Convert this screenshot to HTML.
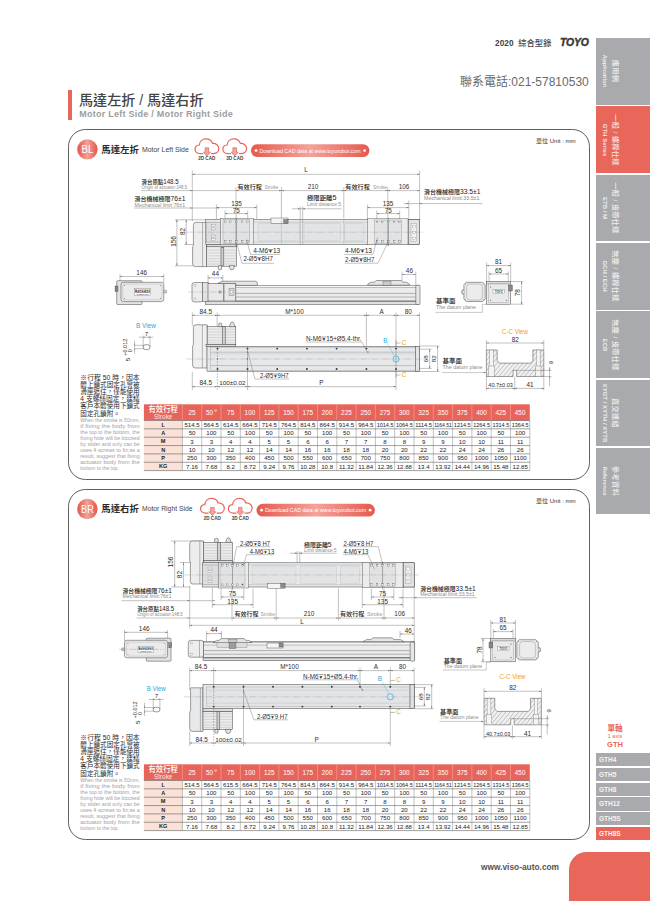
<!DOCTYPE html>
<html lang="zh-Hant"><head><meta charset="utf-8"><title>馬達左折 / 馬達右折 - GTH8S</title>
<style>
html,body{margin:0;padding:0}
body{width:650px;height:901px;position:relative;overflow:hidden;background:#fff;font-family:"Liberation Sans","Noto Sans CJK TC",sans-serif;color:#333}
.a{position:absolute;white-space:nowrap}
.tab{position:absolute;left:595.6px;width:54.4px;height:66.7px;background:#a8aaad}
.tab.on{background:#e9665b}
.tab .t{position:absolute;left:50%;top:50%;width:66px;margin-left:-33px;transform:translate(-12.6px,-50%) rotate(90deg);transform-origin:50% 50%;text-align:center;color:rgba(255,255,255,.82);line-height:1}
.tab .t b{display:block;font-size:7.2px;font-weight:500;letter-spacing:.25px}
.tab .t i{display:block;font-style:normal;font-weight:700;font-size:6.05px;margin-top:3.9px}
.panel{position:absolute;left:68.4px;width:521.4px;border:.9px solid #606060;border-radius:17.5px;box-sizing:border-box}
.li{position:absolute;left:595.6px;width:54.4px;height:13.1px;background:#a8aaad;color:#f4f4f4;font-weight:700;font-size:6.5px;line-height:13.3px;text-indent:3.4px}
.li.on{background:#e9665b}
.note{position:absolute;left:80.3px;width:59.6px;text-align:justify;white-space:normal}
svg text{font-family:"Liberation Sans","Noto Sans CJK TC",sans-serif}
</style></head><body>
<div class="a" style="left:495px;top:38.7px;font-size:8.25px;font-weight:700;line-height:10px;color:#444;letter-spacing:.05px">2020&nbsp; <span style="font-weight:500">綜合型錄</span></div>
<div class="a" style="left:560px;top:37px;font-size:10.4px;font-weight:700;font-style:italic;line-height:12px;color:#3a3a3a;-webkit-text-stroke:.45px #3a3a3a;letter-spacing:-.1px;transform:scaleX(1.0);transform-origin:0 0">TOYO</div>
<div class="a" style="left:460px;top:74px;font-size:12px;line-height:16px;color:#6a6a6a">聯系電話:021-57810530</div>
<div class="a" style="left:68.4px;top:90.1px;width:3.7px;height:30.3px;background:#e9665b"></div>
<div class="a" style="left:79px;top:90.6px;font-size:14.1px;font-weight:500;line-height:19px;color:#444">馬達左折 / 馬達右折</div>
<div class="a" style="left:79.2px;top:108.1px;font-size:9px;letter-spacing:.26px;font-weight:700;line-height:12px;color:#9c9da1">Motor Left Side / Motor Right Side</div>
<div class="tab" style="top:38px"><div class="t"><b>應用例</b><i>Application</i></div></div>
<div class="tab on" style="top:106.3px"><div class="t"><b>一般 / 螺桿仕樣</b><i>GTH Series</i></div></div>
<div class="tab" style="top:174.6px"><div class="t"><b>一般 / 皮帶仕樣</b><i>ETB / M</i></div></div>
<div class="tab" style="top:242.9px"><div class="t"><b>無塵 / 螺桿仕樣</b><i>GCH / ECH</i></div></div>
<div class="tab" style="top:311.2px"><div class="t"><b>無塵 / 皮帶仕樣</b><i>ECB</i></div></div>
<div class="tab" style="top:379.5px"><div class="t"><b>直交連結</b><i>XYGT / XYTH / XYTB</i></div></div>
<div class="tab" style="top:447.8px"><div class="t"><b>參考資料</b><i>Reference</i></div></div>
<div class="a" style="left:596px;width:38px;top:723.5px;text-align:center;color:#e9665b;font-size:7.6px;font-weight:700;line-height:9px">單軸</div>
<div class="a" style="left:596px;width:38px;top:732.6px;text-align:center;color:#e9665b;font-size:5.6px;line-height:7px">1 axis</div>
<div class="a" style="left:596px;width:38px;top:739.8px;text-align:center;color:#e9665b;font-size:7.6px;font-weight:700;line-height:9px">GTH</div>
<div class="li" style="top:753.1px">GTH4</div>
<div class="li" style="top:767.88px">GTH5</div>
<div class="li" style="top:782.66px">GTH8</div>
<div class="li" style="top:797.44px">GTH12</div>
<div class="li" style="top:812.22px">GTH5S</div>
<div class="li on" style="top:827px">GTH8S</div>
<div class="a" style="left:481px;top:861.5px;font-size:8.35px;font-weight:700;line-height:11px;color:#555">www.viso-auto.com</div>
<div class="a" style="left:568.8px;top:852.3px;width:90px;height:60px;background:#e9665b;border-radius:17.5px 0 0 0"></div>
<div class="panel" style="top:129px;height:351.1px"></div>
<div class="panel" style="top:488.6px;height:351px"></div>
<svg class="a" style="left:0;top:0" width="650" height="901" viewBox="0 0 650 901">
<defs><linearGradient id="gb" x1="0" y1="0" x2="1" y2="0"><stop offset="0" stop-color="#e4554a"/><stop offset="0.5" stop-color="#f2a199"/><stop offset="1" stop-color="#e4554a"/></linearGradient><linearGradient id="gp" x1="0" y1="0" x2="1" y2="0"><stop offset="0" stop-color="#e6594d"/><stop offset="0.5" stop-color="#f3a39b"/><stop offset="1" stop-color="#e6594d"/></linearGradient><pattern id="hat" width="3.3" height="3.3" patternUnits="userSpaceOnUse" patternTransform="rotate(-50)"><rect width="3.3" height="3.3" fill="#f0f0f1"/><line x1="0" y1="0" x2="3.3" y2="0" stroke="#4a4a4a" stroke-width="0.45"/></pattern></defs>
<circle cx="87.4" cy="149.4" r="10.2" fill="url(#gb)"/><text x="87.4" y="153.3" font-size="11.4" text-anchor="middle" fill="#fff" textLength="11.7" lengthAdjust="spacingAndGlyphs">BL</text><text x="101.3" y="152.6" font-size="9.3" text-anchor="start" fill="#2a2a2a" font-weight="700" textLength="37.6" lengthAdjust="spacingAndGlyphs">馬達左折</text><text x="142" y="151.7" font-size="6.6" text-anchor="start" fill="#444" textLength="46.8" lengthAdjust="spacingAndGlyphs">Motor Left Side</text><g transform="translate(194.4 138.2)" fill="none" stroke="#e8655a" stroke-width="1.25" stroke-linecap="round" stroke-linejoin="round"><path d="M8.2 15.4 H5.6 C2.6 15.4 0.7 13.4 0.7 11 C0.7 8.7 2.5 6.9 4.9 6.8 C5.2 3.2 8 0.7 11.6 0.7 C14.6 0.7 17.2 2.5 18.1 5.2 C21.6 4.9 24.4 7.3 24.4 10.4 C24.4 13.2 22.2 15.4 19.4 15.4 H17.2"/></g><path transform="translate(194.4 138.2)" d="M10.7 9.6 H14.3 V14 H16 L12.5 17.7 L9 14 H10.7 Z" fill="#f3a59c" stroke="#e8655a" stroke-width="0.7" stroke-linejoin="round"/><g transform="translate(222.2 138.2)" fill="none" stroke="#e8655a" stroke-width="1.25" stroke-linecap="round" stroke-linejoin="round"><path d="M8.2 15.4 H5.6 C2.6 15.4 0.7 13.4 0.7 11 C0.7 8.7 2.5 6.9 4.9 6.8 C5.2 3.2 8 0.7 11.6 0.7 C14.6 0.7 17.2 2.5 18.1 5.2 C21.6 4.9 24.4 7.3 24.4 10.4 C24.4 13.2 22.2 15.4 19.4 15.4 H17.2"/></g><path transform="translate(222.2 138.2)" d="M10.7 9.6 H14.3 V14 H16 L12.5 17.7 L9 14 H10.7 Z" fill="#f3a59c" stroke="#e8655a" stroke-width="0.7" stroke-linejoin="round"/><text x="206.8" y="160.4" font-size="4.7" text-anchor="middle" fill="#444" font-weight="700" textLength="17.3" lengthAdjust="spacingAndGlyphs">2D CAD</text><text x="234.8" y="160.4" font-size="4.7" text-anchor="middle" fill="#444" font-weight="700" textLength="17.3" lengthAdjust="spacingAndGlyphs">3D CAD</text><rect x="251" y="144.2" width="118.4" height="12.8" rx="6.4" fill="url(#gp)"/><circle cx="256.1" cy="150.6" r="1.4" fill="#fff"/><circle cx="364.6" cy="150.6" r="1.4" fill="#fff"/><text x="259.4" y="152.6" font-size="5.7" text-anchor="start" fill="#fff" textLength="101.2" lengthAdjust="spacingAndGlyphs">Download CAD data at www.toyorobot.com</text><text x="536" y="142.6" font-size="5.5" text-anchor="start" fill="#333" textLength="39.6" lengthAdjust="spacingAndGlyphs">單位 Unit : mm</text><text x="80.3" y="379.75" font-size="6.6" text-anchor="start" fill="#2a2a2a" font-weight="400" textLength="59.4" lengthAdjust="spacingAndGlyphs">※行程 50 時，因本</text><text x="80.3" y="387.05" font-size="6.6" text-anchor="start" fill="#2a2a2a" font-weight="400" textLength="59.4" lengthAdjust="spacingAndGlyphs">體上鎖式固定孔會被</text><text x="80.3" y="394.15" font-size="6.6" text-anchor="start" fill="#2a2a2a" font-weight="400" textLength="59.4" lengthAdjust="spacingAndGlyphs">滑座遮住，僅能使用</text><text x="80.3" y="401.25" font-size="6.6" text-anchor="start" fill="#2a2a2a" font-weight="400" textLength="59.4" lengthAdjust="spacingAndGlyphs">4 支螺絲固定，建議</text><text x="80.3" y="408.45" font-size="6.6" text-anchor="start" fill="#2a2a2a" font-weight="400" textLength="59.4" lengthAdjust="spacingAndGlyphs">客戶本體使用下鎖式</text><text x="80.3" y="415.55" font-size="6.6" text-anchor="start" fill="#2a2a2a" font-weight="400" textLength="39.6" lengthAdjust="spacingAndGlyphs">固定孔鎖附。</text><text x="80.3" y="421.95" font-size="5.2" text-anchor="start" fill="#a3a3a3" textLength="59.4" lengthAdjust="spacingAndGlyphs">When the stroke is 50mm,</text><text x="80.3" y="427.9" font-size="5.2" text-anchor="start" fill="#a3a3a3" textLength="59.4" lengthAdjust="spacingAndGlyphs">if fixing the body from</text><text x="80.3" y="433.85" font-size="5.2" text-anchor="start" fill="#a3a3a3" textLength="59.4" lengthAdjust="spacingAndGlyphs">the top to the bottom, the</text><text x="80.3" y="439.8" font-size="5.2" text-anchor="start" fill="#a3a3a3" textLength="59.4" lengthAdjust="spacingAndGlyphs">fixing hole will be blocked</text><text x="80.3" y="445.75" font-size="5.2" text-anchor="start" fill="#a3a3a3" textLength="59.4" lengthAdjust="spacingAndGlyphs">by slider and only can be</text><text x="80.3" y="451.7" font-size="5.2" text-anchor="start" fill="#a3a3a3" textLength="59.4" lengthAdjust="spacingAndGlyphs">uses 4 screws to fix;as a</text><text x="80.3" y="457.65" font-size="5.2" text-anchor="start" fill="#a3a3a3" textLength="59.4" lengthAdjust="spacingAndGlyphs">result, suggest that fixing</text><text x="80.3" y="463.6" font-size="5.2" text-anchor="start" fill="#a3a3a3" textLength="59.4" lengthAdjust="spacingAndGlyphs">actuator body from the</text><text x="80.3" y="469.55" font-size="5.2" text-anchor="start" fill="#a3a3a3" textLength="38.5" lengthAdjust="spacingAndGlyphs">bottom to the top.</text><rect x="143.9" y="404.3" width="385.9" height="16.2" fill="#e8645a"/><rect x="143.9" y="420.5" width="38.5" height="50.1" fill="#fbe2d8"/><line x1="182.4" y1="404.3" x2="182.4" y2="420.5" stroke="#f6b5ad" stroke-width="0.5"/><line x1="201.7" y1="404.3" x2="201.7" y2="420.5" stroke="#f6b5ad" stroke-width="0.5"/><line x1="221" y1="404.3" x2="221" y2="420.5" stroke="#f6b5ad" stroke-width="0.5"/><line x1="240.3" y1="404.3" x2="240.3" y2="420.5" stroke="#f6b5ad" stroke-width="0.5"/><line x1="259.6" y1="404.3" x2="259.6" y2="420.5" stroke="#f6b5ad" stroke-width="0.5"/><line x1="278.9" y1="404.3" x2="278.9" y2="420.5" stroke="#f6b5ad" stroke-width="0.5"/><line x1="298.2" y1="404.3" x2="298.2" y2="420.5" stroke="#f6b5ad" stroke-width="0.5"/><line x1="317.5" y1="404.3" x2="317.5" y2="420.5" stroke="#f6b5ad" stroke-width="0.5"/><line x1="336.8" y1="404.3" x2="336.8" y2="420.5" stroke="#f6b5ad" stroke-width="0.5"/><line x1="356.1" y1="404.3" x2="356.1" y2="420.5" stroke="#f6b5ad" stroke-width="0.5"/><line x1="375.4" y1="404.3" x2="375.4" y2="420.5" stroke="#f6b5ad" stroke-width="0.5"/><line x1="394.7" y1="404.3" x2="394.7" y2="420.5" stroke="#f6b5ad" stroke-width="0.5"/><line x1="414" y1="404.3" x2="414" y2="420.5" stroke="#f6b5ad" stroke-width="0.5"/><line x1="433.3" y1="404.3" x2="433.3" y2="420.5" stroke="#f6b5ad" stroke-width="0.5"/><line x1="452.6" y1="404.3" x2="452.6" y2="420.5" stroke="#f6b5ad" stroke-width="0.5"/><line x1="471.9" y1="404.3" x2="471.9" y2="420.5" stroke="#f6b5ad" stroke-width="0.5"/><line x1="491.2" y1="404.3" x2="491.2" y2="420.5" stroke="#f6b5ad" stroke-width="0.5"/><line x1="510.5" y1="404.3" x2="510.5" y2="420.5" stroke="#f6b5ad" stroke-width="0.5"/><text x="163.15" y="412.2" font-size="7.6" text-anchor="middle" fill="#fff" font-weight="500" textLength="29.5" lengthAdjust="spacingAndGlyphs">有效行程</text><text x="163.15" y="418.5" font-size="6.3" text-anchor="middle" fill="#fde4df" textLength="18.5" lengthAdjust="spacingAndGlyphs">Stroke</text><text x="192.05" y="414.9" font-size="6.4" text-anchor="middle" fill="#fff">25</text><text x="209.45" y="414.9" font-size="6.4" text-anchor="middle" fill="#fff">50</text><text x="215.55" y="411.8" font-size="3.8" text-anchor="middle" fill="#fff">※</text><text x="230.65" y="414.9" font-size="6.4" text-anchor="middle" fill="#fff">75</text><text x="249.95" y="414.9" font-size="6.4" text-anchor="middle" fill="#fff">100</text><text x="269.25" y="414.9" font-size="6.4" text-anchor="middle" fill="#fff">125</text><text x="288.55" y="414.9" font-size="6.4" text-anchor="middle" fill="#fff">150</text><text x="307.85" y="414.9" font-size="6.4" text-anchor="middle" fill="#fff">175</text><text x="327.15" y="414.9" font-size="6.4" text-anchor="middle" fill="#fff">200</text><text x="346.45" y="414.9" font-size="6.4" text-anchor="middle" fill="#fff">225</text><text x="365.75" y="414.9" font-size="6.4" text-anchor="middle" fill="#fff">250</text><text x="385.05" y="414.9" font-size="6.4" text-anchor="middle" fill="#fff">275</text><text x="404.35" y="414.9" font-size="6.4" text-anchor="middle" fill="#fff">300</text><text x="423.65" y="414.9" font-size="6.4" text-anchor="middle" fill="#fff">325</text><text x="442.95" y="414.9" font-size="6.4" text-anchor="middle" fill="#fff">350</text><text x="462.25" y="414.9" font-size="6.4" text-anchor="middle" fill="#fff">375</text><text x="481.55" y="414.9" font-size="6.4" text-anchor="middle" fill="#fff">400</text><text x="500.85" y="414.9" font-size="6.4" text-anchor="middle" fill="#fff">425</text><text x="520.15" y="414.9" font-size="6.4" text-anchor="middle" fill="#fff">450</text><text x="163.15" y="426.73" font-size="5.6" text-anchor="middle" fill="#222" font-weight="700">L</text><text x="192.05" y="426.88" font-size="6.1" text-anchor="middle" fill="#222">514.5</text><text x="211.35" y="426.88" font-size="6.1" text-anchor="middle" fill="#222">564.5</text><text x="230.65" y="426.88" font-size="6.1" text-anchor="middle" fill="#222">614.5</text><text x="249.95" y="426.88" font-size="6.1" text-anchor="middle" fill="#222">664.5</text><text x="269.25" y="426.88" font-size="6.1" text-anchor="middle" fill="#222">714.5</text><text x="288.55" y="426.88" font-size="6.1" text-anchor="middle" fill="#222">764.5</text><text x="307.85" y="426.88" font-size="6.1" text-anchor="middle" fill="#222">814.5</text><text x="327.15" y="426.88" font-size="6.1" text-anchor="middle" fill="#222">864.5</text><text x="346.45" y="426.88" font-size="6.1" text-anchor="middle" fill="#222">914.5</text><text x="365.75" y="426.88" font-size="6.1" text-anchor="middle" fill="#222">964.5</text><text x="385.05" y="426.88" font-size="6.1" text-anchor="middle" fill="#222" textLength="16.8" lengthAdjust="spacingAndGlyphs">1014.5</text><text x="404.35" y="426.88" font-size="6.1" text-anchor="middle" fill="#222" textLength="16.8" lengthAdjust="spacingAndGlyphs">1064.5</text><text x="423.65" y="426.88" font-size="6.1" text-anchor="middle" fill="#222" textLength="16.8" lengthAdjust="spacingAndGlyphs">1114.5</text><text x="442.95" y="426.88" font-size="6.1" text-anchor="middle" fill="#222" textLength="17.6" lengthAdjust="spacingAndGlyphs">1164.51</text><text x="462.25" y="426.88" font-size="6.1" text-anchor="middle" fill="#222" textLength="16.8" lengthAdjust="spacingAndGlyphs">1214.5</text><text x="481.55" y="426.88" font-size="6.1" text-anchor="middle" fill="#222" textLength="16.8" lengthAdjust="spacingAndGlyphs">1264.5</text><text x="500.85" y="426.88" font-size="6.1" text-anchor="middle" fill="#222" textLength="16.8" lengthAdjust="spacingAndGlyphs">1314.5</text><text x="520.15" y="426.88" font-size="6.1" text-anchor="middle" fill="#222" textLength="16.8" lengthAdjust="spacingAndGlyphs">1364.5</text><text x="163.15" y="435.08" font-size="5.6" text-anchor="middle" fill="#222" font-weight="700">A</text><text x="192.05" y="435.23" font-size="6.1" text-anchor="middle" fill="#222">50</text><text x="211.35" y="435.23" font-size="6.1" text-anchor="middle" fill="#222">100</text><text x="230.65" y="435.23" font-size="6.1" text-anchor="middle" fill="#222">50</text><text x="249.95" y="435.23" font-size="6.1" text-anchor="middle" fill="#222">100</text><text x="269.25" y="435.23" font-size="6.1" text-anchor="middle" fill="#222">50</text><text x="288.55" y="435.23" font-size="6.1" text-anchor="middle" fill="#222">100</text><text x="307.85" y="435.23" font-size="6.1" text-anchor="middle" fill="#222">50</text><text x="327.15" y="435.23" font-size="6.1" text-anchor="middle" fill="#222">100</text><text x="346.45" y="435.23" font-size="6.1" text-anchor="middle" fill="#222">50</text><text x="365.75" y="435.23" font-size="6.1" text-anchor="middle" fill="#222">100</text><text x="385.05" y="435.23" font-size="6.1" text-anchor="middle" fill="#222">50</text><text x="404.35" y="435.23" font-size="6.1" text-anchor="middle" fill="#222">100</text><text x="423.65" y="435.23" font-size="6.1" text-anchor="middle" fill="#222">50</text><text x="442.95" y="435.23" font-size="6.1" text-anchor="middle" fill="#222">100</text><text x="462.25" y="435.23" font-size="6.1" text-anchor="middle" fill="#222">50</text><text x="481.55" y="435.23" font-size="6.1" text-anchor="middle" fill="#222">100</text><text x="500.85" y="435.23" font-size="6.1" text-anchor="middle" fill="#222">50</text><text x="520.15" y="435.23" font-size="6.1" text-anchor="middle" fill="#222">100</text><text x="163.15" y="443.43" font-size="5.6" text-anchor="middle" fill="#222" font-weight="700">M</text><text x="192.05" y="443.57" font-size="6.1" text-anchor="middle" fill="#222">3</text><text x="211.35" y="443.57" font-size="6.1" text-anchor="middle" fill="#222">3</text><text x="230.65" y="443.57" font-size="6.1" text-anchor="middle" fill="#222">4</text><text x="249.95" y="443.57" font-size="6.1" text-anchor="middle" fill="#222">4</text><text x="269.25" y="443.57" font-size="6.1" text-anchor="middle" fill="#222">5</text><text x="288.55" y="443.57" font-size="6.1" text-anchor="middle" fill="#222">5</text><text x="307.85" y="443.57" font-size="6.1" text-anchor="middle" fill="#222">6</text><text x="327.15" y="443.57" font-size="6.1" text-anchor="middle" fill="#222">6</text><text x="346.45" y="443.57" font-size="6.1" text-anchor="middle" fill="#222">7</text><text x="365.75" y="443.57" font-size="6.1" text-anchor="middle" fill="#222">7</text><text x="385.05" y="443.57" font-size="6.1" text-anchor="middle" fill="#222">8</text><text x="404.35" y="443.57" font-size="6.1" text-anchor="middle" fill="#222">8</text><text x="423.65" y="443.57" font-size="6.1" text-anchor="middle" fill="#222">9</text><text x="442.95" y="443.57" font-size="6.1" text-anchor="middle" fill="#222">9</text><text x="462.25" y="443.57" font-size="6.1" text-anchor="middle" fill="#222">10</text><text x="481.55" y="443.57" font-size="6.1" text-anchor="middle" fill="#222">10</text><text x="500.85" y="443.57" font-size="6.1" text-anchor="middle" fill="#222">11</text><text x="520.15" y="443.57" font-size="6.1" text-anchor="middle" fill="#222">11</text><text x="163.15" y="451.78" font-size="5.6" text-anchor="middle" fill="#222" font-weight="700">N</text><text x="192.05" y="451.93" font-size="6.1" text-anchor="middle" fill="#222">10</text><text x="211.35" y="451.93" font-size="6.1" text-anchor="middle" fill="#222">10</text><text x="230.65" y="451.93" font-size="6.1" text-anchor="middle" fill="#222">12</text><text x="249.95" y="451.93" font-size="6.1" text-anchor="middle" fill="#222">12</text><text x="269.25" y="451.93" font-size="6.1" text-anchor="middle" fill="#222">14</text><text x="288.55" y="451.93" font-size="6.1" text-anchor="middle" fill="#222">14</text><text x="307.85" y="451.93" font-size="6.1" text-anchor="middle" fill="#222">16</text><text x="327.15" y="451.93" font-size="6.1" text-anchor="middle" fill="#222">16</text><text x="346.45" y="451.93" font-size="6.1" text-anchor="middle" fill="#222">18</text><text x="365.75" y="451.93" font-size="6.1" text-anchor="middle" fill="#222">18</text><text x="385.05" y="451.93" font-size="6.1" text-anchor="middle" fill="#222">20</text><text x="404.35" y="451.93" font-size="6.1" text-anchor="middle" fill="#222">20</text><text x="423.65" y="451.93" font-size="6.1" text-anchor="middle" fill="#222">22</text><text x="442.95" y="451.93" font-size="6.1" text-anchor="middle" fill="#222">22</text><text x="462.25" y="451.93" font-size="6.1" text-anchor="middle" fill="#222">24</text><text x="481.55" y="451.93" font-size="6.1" text-anchor="middle" fill="#222">24</text><text x="500.85" y="451.93" font-size="6.1" text-anchor="middle" fill="#222">26</text><text x="520.15" y="451.93" font-size="6.1" text-anchor="middle" fill="#222">26</text><text x="163.15" y="460.13" font-size="5.6" text-anchor="middle" fill="#222" font-weight="700">P</text><text x="192.05" y="460.28" font-size="6.1" text-anchor="middle" fill="#222">250</text><text x="211.35" y="460.28" font-size="6.1" text-anchor="middle" fill="#222">300</text><text x="230.65" y="460.28" font-size="6.1" text-anchor="middle" fill="#222">350</text><text x="249.95" y="460.28" font-size="6.1" text-anchor="middle" fill="#222">400</text><text x="269.25" y="460.28" font-size="6.1" text-anchor="middle" fill="#222">450</text><text x="288.55" y="460.28" font-size="6.1" text-anchor="middle" fill="#222">500</text><text x="307.85" y="460.28" font-size="6.1" text-anchor="middle" fill="#222">550</text><text x="327.15" y="460.28" font-size="6.1" text-anchor="middle" fill="#222">600</text><text x="346.45" y="460.28" font-size="6.1" text-anchor="middle" fill="#222">650</text><text x="365.75" y="460.28" font-size="6.1" text-anchor="middle" fill="#222">700</text><text x="385.05" y="460.28" font-size="6.1" text-anchor="middle" fill="#222">750</text><text x="404.35" y="460.28" font-size="6.1" text-anchor="middle" fill="#222">800</text><text x="423.65" y="460.28" font-size="6.1" text-anchor="middle" fill="#222">850</text><text x="442.95" y="460.28" font-size="6.1" text-anchor="middle" fill="#222">900</text><text x="462.25" y="460.28" font-size="6.1" text-anchor="middle" fill="#222">950</text><text x="481.55" y="460.28" font-size="6.1" text-anchor="middle" fill="#222">1000</text><text x="500.85" y="460.28" font-size="6.1" text-anchor="middle" fill="#222">1050</text><text x="520.15" y="460.28" font-size="6.1" text-anchor="middle" fill="#222">1100</text><text x="163.15" y="468.48" font-size="5.6" text-anchor="middle" fill="#222" font-weight="700">KG</text><text x="192.05" y="468.62" font-size="6.1" text-anchor="middle" fill="#222">7.16</text><text x="211.35" y="468.62" font-size="6.1" text-anchor="middle" fill="#222">7.68</text><text x="230.65" y="468.62" font-size="6.1" text-anchor="middle" fill="#222">8.2</text><text x="249.95" y="468.62" font-size="6.1" text-anchor="middle" fill="#222">8.72</text><text x="269.25" y="468.62" font-size="6.1" text-anchor="middle" fill="#222">9.24</text><text x="288.55" y="468.62" font-size="6.1" text-anchor="middle" fill="#222">9.76</text><text x="307.85" y="468.62" font-size="6.1" text-anchor="middle" fill="#222">10.28</text><text x="327.15" y="468.62" font-size="6.1" text-anchor="middle" fill="#222">10.8</text><text x="346.45" y="468.62" font-size="6.1" text-anchor="middle" fill="#222">11.32</text><text x="365.75" y="468.62" font-size="6.1" text-anchor="middle" fill="#222">11.84</text><text x="385.05" y="468.62" font-size="6.1" text-anchor="middle" fill="#222">12.36</text><text x="404.35" y="468.62" font-size="6.1" text-anchor="middle" fill="#222">12.88</text><text x="423.65" y="468.62" font-size="6.1" text-anchor="middle" fill="#222">13.4</text><text x="442.95" y="468.62" font-size="6.1" text-anchor="middle" fill="#222">13.92</text><text x="462.25" y="468.62" font-size="6.1" text-anchor="middle" fill="#222">14.44</text><text x="481.55" y="468.62" font-size="6.1" text-anchor="middle" fill="#222">14.96</text><text x="500.85" y="468.62" font-size="6.1" text-anchor="middle" fill="#222">15.48</text><text x="520.15" y="468.62" font-size="6.1" text-anchor="middle" fill="#222">12.85</text><line x1="143.9" y1="420.5" x2="529.8" y2="420.5" stroke="#444" stroke-width="0.5"/><line x1="143.9" y1="428.85" x2="529.8" y2="428.85" stroke="#444" stroke-width="0.5"/><line x1="143.9" y1="437.2" x2="529.8" y2="437.2" stroke="#444" stroke-width="0.5"/><line x1="143.9" y1="445.55" x2="529.8" y2="445.55" stroke="#444" stroke-width="0.5"/><line x1="143.9" y1="453.9" x2="529.8" y2="453.9" stroke="#444" stroke-width="0.5"/><line x1="143.9" y1="462.25" x2="529.8" y2="462.25" stroke="#444" stroke-width="0.5"/><line x1="143.9" y1="470.6" x2="529.8" y2="470.6" stroke="#444" stroke-width="0.5"/><line x1="182.4" y1="420.5" x2="182.4" y2="470.6" stroke="#777" stroke-width="0.45"/><line x1="201.7" y1="420.5" x2="201.7" y2="470.6" stroke="#777" stroke-width="0.45"/><line x1="221" y1="420.5" x2="221" y2="470.6" stroke="#777" stroke-width="0.45"/><line x1="240.3" y1="420.5" x2="240.3" y2="470.6" stroke="#777" stroke-width="0.45"/><line x1="259.6" y1="420.5" x2="259.6" y2="470.6" stroke="#777" stroke-width="0.45"/><line x1="278.9" y1="420.5" x2="278.9" y2="470.6" stroke="#777" stroke-width="0.45"/><line x1="298.2" y1="420.5" x2="298.2" y2="470.6" stroke="#777" stroke-width="0.45"/><line x1="317.5" y1="420.5" x2="317.5" y2="470.6" stroke="#777" stroke-width="0.45"/><line x1="336.8" y1="420.5" x2="336.8" y2="470.6" stroke="#777" stroke-width="0.45"/><line x1="356.1" y1="420.5" x2="356.1" y2="470.6" stroke="#777" stroke-width="0.45"/><line x1="375.4" y1="420.5" x2="375.4" y2="470.6" stroke="#777" stroke-width="0.45"/><line x1="394.7" y1="420.5" x2="394.7" y2="470.6" stroke="#777" stroke-width="0.45"/><line x1="414" y1="420.5" x2="414" y2="470.6" stroke="#777" stroke-width="0.45"/><line x1="433.3" y1="420.5" x2="433.3" y2="470.6" stroke="#777" stroke-width="0.45"/><line x1="452.6" y1="420.5" x2="452.6" y2="470.6" stroke="#777" stroke-width="0.45"/><line x1="471.9" y1="420.5" x2="471.9" y2="470.6" stroke="#777" stroke-width="0.45"/><line x1="491.2" y1="420.5" x2="491.2" y2="470.6" stroke="#777" stroke-width="0.45"/><line x1="510.5" y1="420.5" x2="510.5" y2="470.6" stroke="#777" stroke-width="0.45"/><line x1="529.8" y1="420.5" x2="529.8" y2="470.6" stroke="#777" stroke-width="0.45"/>
<circle cx="87.4" cy="509" r="10.2" fill="url(#gb)"/><text x="87.4" y="512.9" font-size="11.4" text-anchor="middle" fill="#fff" textLength="12.6" lengthAdjust="spacingAndGlyphs">BR</text><text x="101.3" y="512.2" font-size="9.3" text-anchor="start" fill="#2a2a2a" font-weight="700" textLength="37.6" lengthAdjust="spacingAndGlyphs">馬達右折</text><text x="142" y="511.3" font-size="6.6" text-anchor="start" fill="#444" textLength="50.5" lengthAdjust="spacingAndGlyphs">Motor Right Side</text><g transform="translate(199.9 497.8)" fill="none" stroke="#e8655a" stroke-width="1.25" stroke-linecap="round" stroke-linejoin="round"><path d="M8.2 15.4 H5.6 C2.6 15.4 0.7 13.4 0.7 11 C0.7 8.7 2.5 6.9 4.9 6.8 C5.2 3.2 8 0.7 11.6 0.7 C14.6 0.7 17.2 2.5 18.1 5.2 C21.6 4.9 24.4 7.3 24.4 10.4 C24.4 13.2 22.2 15.4 19.4 15.4 H17.2"/></g><path transform="translate(199.9 497.8)" d="M10.7 9.6 H14.3 V14 H16 L12.5 17.7 L9 14 H10.7 Z" fill="#f3a59c" stroke="#e8655a" stroke-width="0.7" stroke-linejoin="round"/><g transform="translate(227.7 497.8)" fill="none" stroke="#e8655a" stroke-width="1.25" stroke-linecap="round" stroke-linejoin="round"><path d="M8.2 15.4 H5.6 C2.6 15.4 0.7 13.4 0.7 11 C0.7 8.7 2.5 6.9 4.9 6.8 C5.2 3.2 8 0.7 11.6 0.7 C14.6 0.7 17.2 2.5 18.1 5.2 C21.6 4.9 24.4 7.3 24.4 10.4 C24.4 13.2 22.2 15.4 19.4 15.4 H17.2"/></g><path transform="translate(227.7 497.8)" d="M10.7 9.6 H14.3 V14 H16 L12.5 17.7 L9 14 H10.7 Z" fill="#f3a59c" stroke="#e8655a" stroke-width="0.7" stroke-linejoin="round"/><text x="212.3" y="520" font-size="4.7" text-anchor="middle" fill="#444" font-weight="700" textLength="17.3" lengthAdjust="spacingAndGlyphs">2D CAD</text><text x="240.3" y="520" font-size="4.7" text-anchor="middle" fill="#444" font-weight="700" textLength="17.3" lengthAdjust="spacingAndGlyphs">3D CAD</text><rect x="256.5" y="503.8" width="118.4" height="12.8" rx="6.4" fill="url(#gp)"/><circle cx="261.6" cy="510.2" r="1.4" fill="#fff"/><circle cx="370.1" cy="510.2" r="1.4" fill="#fff"/><text x="264.9" y="512.2" font-size="5.7" text-anchor="start" fill="#fff" textLength="101.2" lengthAdjust="spacingAndGlyphs">Download CAD data at www.toyorobot.com</text><text x="536" y="502.6" font-size="5.5" text-anchor="start" fill="#333" textLength="39.6" lengthAdjust="spacingAndGlyphs">單位 Unit : mm</text><text x="80.3" y="739.75" font-size="6.6" text-anchor="start" fill="#2a2a2a" font-weight="400" textLength="59.4" lengthAdjust="spacingAndGlyphs">※行程 50 時，因本</text><text x="80.3" y="747.05" font-size="6.6" text-anchor="start" fill="#2a2a2a" font-weight="400" textLength="59.4" lengthAdjust="spacingAndGlyphs">體上鎖式固定孔會被</text><text x="80.3" y="754.15" font-size="6.6" text-anchor="start" fill="#2a2a2a" font-weight="400" textLength="59.4" lengthAdjust="spacingAndGlyphs">滑座遮住，僅能使用</text><text x="80.3" y="761.25" font-size="6.6" text-anchor="start" fill="#2a2a2a" font-weight="400" textLength="59.4" lengthAdjust="spacingAndGlyphs">4 支螺絲固定，建議</text><text x="80.3" y="768.45" font-size="6.6" text-anchor="start" fill="#2a2a2a" font-weight="400" textLength="59.4" lengthAdjust="spacingAndGlyphs">客戶本體使用下鎖式</text><text x="80.3" y="775.55" font-size="6.6" text-anchor="start" fill="#2a2a2a" font-weight="400" textLength="39.6" lengthAdjust="spacingAndGlyphs">固定孔鎖附。</text><text x="80.3" y="781.95" font-size="5.2" text-anchor="start" fill="#a3a3a3" textLength="59.4" lengthAdjust="spacingAndGlyphs">When the stroke is 50mm,</text><text x="80.3" y="787.9" font-size="5.2" text-anchor="start" fill="#a3a3a3" textLength="59.4" lengthAdjust="spacingAndGlyphs">if fixing the body from</text><text x="80.3" y="793.85" font-size="5.2" text-anchor="start" fill="#a3a3a3" textLength="59.4" lengthAdjust="spacingAndGlyphs">the top to the bottom, the</text><text x="80.3" y="799.8" font-size="5.2" text-anchor="start" fill="#a3a3a3" textLength="59.4" lengthAdjust="spacingAndGlyphs">fixing hole will be blocked</text><text x="80.3" y="805.75" font-size="5.2" text-anchor="start" fill="#a3a3a3" textLength="59.4" lengthAdjust="spacingAndGlyphs">by slider and only can be</text><text x="80.3" y="811.7" font-size="5.2" text-anchor="start" fill="#a3a3a3" textLength="59.4" lengthAdjust="spacingAndGlyphs">uses 4 screws to fix;as a</text><text x="80.3" y="817.65" font-size="5.2" text-anchor="start" fill="#a3a3a3" textLength="59.4" lengthAdjust="spacingAndGlyphs">result, suggest that fixing</text><text x="80.3" y="823.6" font-size="5.2" text-anchor="start" fill="#a3a3a3" textLength="59.4" lengthAdjust="spacingAndGlyphs">actuator body from the</text><text x="80.3" y="829.55" font-size="5.2" text-anchor="start" fill="#a3a3a3" textLength="38.5" lengthAdjust="spacingAndGlyphs">bottom to the top.</text><rect x="143.9" y="764.3" width="385.9" height="16.2" fill="#e8645a"/><rect x="143.9" y="780.5" width="38.5" height="50.1" fill="#fbe2d8"/><line x1="182.4" y1="764.3" x2="182.4" y2="780.5" stroke="#f6b5ad" stroke-width="0.5"/><line x1="201.7" y1="764.3" x2="201.7" y2="780.5" stroke="#f6b5ad" stroke-width="0.5"/><line x1="221" y1="764.3" x2="221" y2="780.5" stroke="#f6b5ad" stroke-width="0.5"/><line x1="240.3" y1="764.3" x2="240.3" y2="780.5" stroke="#f6b5ad" stroke-width="0.5"/><line x1="259.6" y1="764.3" x2="259.6" y2="780.5" stroke="#f6b5ad" stroke-width="0.5"/><line x1="278.9" y1="764.3" x2="278.9" y2="780.5" stroke="#f6b5ad" stroke-width="0.5"/><line x1="298.2" y1="764.3" x2="298.2" y2="780.5" stroke="#f6b5ad" stroke-width="0.5"/><line x1="317.5" y1="764.3" x2="317.5" y2="780.5" stroke="#f6b5ad" stroke-width="0.5"/><line x1="336.8" y1="764.3" x2="336.8" y2="780.5" stroke="#f6b5ad" stroke-width="0.5"/><line x1="356.1" y1="764.3" x2="356.1" y2="780.5" stroke="#f6b5ad" stroke-width="0.5"/><line x1="375.4" y1="764.3" x2="375.4" y2="780.5" stroke="#f6b5ad" stroke-width="0.5"/><line x1="394.7" y1="764.3" x2="394.7" y2="780.5" stroke="#f6b5ad" stroke-width="0.5"/><line x1="414" y1="764.3" x2="414" y2="780.5" stroke="#f6b5ad" stroke-width="0.5"/><line x1="433.3" y1="764.3" x2="433.3" y2="780.5" stroke="#f6b5ad" stroke-width="0.5"/><line x1="452.6" y1="764.3" x2="452.6" y2="780.5" stroke="#f6b5ad" stroke-width="0.5"/><line x1="471.9" y1="764.3" x2="471.9" y2="780.5" stroke="#f6b5ad" stroke-width="0.5"/><line x1="491.2" y1="764.3" x2="491.2" y2="780.5" stroke="#f6b5ad" stroke-width="0.5"/><line x1="510.5" y1="764.3" x2="510.5" y2="780.5" stroke="#f6b5ad" stroke-width="0.5"/><text x="163.15" y="772.2" font-size="7.6" text-anchor="middle" fill="#fff" font-weight="500" textLength="29.5" lengthAdjust="spacingAndGlyphs">有效行程</text><text x="163.15" y="778.5" font-size="6.3" text-anchor="middle" fill="#fde4df" textLength="18.5" lengthAdjust="spacingAndGlyphs">Stroke</text><text x="192.05" y="774.9" font-size="6.4" text-anchor="middle" fill="#fff">25</text><text x="209.45" y="774.9" font-size="6.4" text-anchor="middle" fill="#fff">50</text><text x="215.55" y="771.8" font-size="3.8" text-anchor="middle" fill="#fff">※</text><text x="230.65" y="774.9" font-size="6.4" text-anchor="middle" fill="#fff">75</text><text x="249.95" y="774.9" font-size="6.4" text-anchor="middle" fill="#fff">100</text><text x="269.25" y="774.9" font-size="6.4" text-anchor="middle" fill="#fff">125</text><text x="288.55" y="774.9" font-size="6.4" text-anchor="middle" fill="#fff">150</text><text x="307.85" y="774.9" font-size="6.4" text-anchor="middle" fill="#fff">175</text><text x="327.15" y="774.9" font-size="6.4" text-anchor="middle" fill="#fff">200</text><text x="346.45" y="774.9" font-size="6.4" text-anchor="middle" fill="#fff">225</text><text x="365.75" y="774.9" font-size="6.4" text-anchor="middle" fill="#fff">250</text><text x="385.05" y="774.9" font-size="6.4" text-anchor="middle" fill="#fff">275</text><text x="404.35" y="774.9" font-size="6.4" text-anchor="middle" fill="#fff">300</text><text x="423.65" y="774.9" font-size="6.4" text-anchor="middle" fill="#fff">325</text><text x="442.95" y="774.9" font-size="6.4" text-anchor="middle" fill="#fff">350</text><text x="462.25" y="774.9" font-size="6.4" text-anchor="middle" fill="#fff">375</text><text x="481.55" y="774.9" font-size="6.4" text-anchor="middle" fill="#fff">400</text><text x="500.85" y="774.9" font-size="6.4" text-anchor="middle" fill="#fff">425</text><text x="520.15" y="774.9" font-size="6.4" text-anchor="middle" fill="#fff">450</text><text x="163.15" y="786.72" font-size="5.6" text-anchor="middle" fill="#222" font-weight="700">L</text><text x="192.05" y="786.88" font-size="6.1" text-anchor="middle" fill="#222">514.5</text><text x="211.35" y="786.88" font-size="6.1" text-anchor="middle" fill="#222">564.5</text><text x="230.65" y="786.88" font-size="6.1" text-anchor="middle" fill="#222">615.5</text><text x="249.95" y="786.88" font-size="6.1" text-anchor="middle" fill="#222">664.5</text><text x="269.25" y="786.88" font-size="6.1" text-anchor="middle" fill="#222">714.5</text><text x="288.55" y="786.88" font-size="6.1" text-anchor="middle" fill="#222">764.5</text><text x="307.85" y="786.88" font-size="6.1" text-anchor="middle" fill="#222">814.5</text><text x="327.15" y="786.88" font-size="6.1" text-anchor="middle" fill="#222">864.5</text><text x="346.45" y="786.88" font-size="6.1" text-anchor="middle" fill="#222">914.5</text><text x="365.75" y="786.88" font-size="6.1" text-anchor="middle" fill="#222">964.5</text><text x="385.05" y="786.88" font-size="6.1" text-anchor="middle" fill="#222" textLength="16.8" lengthAdjust="spacingAndGlyphs">1014.5</text><text x="404.35" y="786.88" font-size="6.1" text-anchor="middle" fill="#222" textLength="16.8" lengthAdjust="spacingAndGlyphs">1064.5</text><text x="423.65" y="786.88" font-size="6.1" text-anchor="middle" fill="#222" textLength="16.8" lengthAdjust="spacingAndGlyphs">1114.5</text><text x="442.95" y="786.88" font-size="6.1" text-anchor="middle" fill="#222" textLength="17.6" lengthAdjust="spacingAndGlyphs">1164.51</text><text x="462.25" y="786.88" font-size="6.1" text-anchor="middle" fill="#222" textLength="16.8" lengthAdjust="spacingAndGlyphs">1214.5</text><text x="481.55" y="786.88" font-size="6.1" text-anchor="middle" fill="#222" textLength="16.8" lengthAdjust="spacingAndGlyphs">1264.5</text><text x="500.85" y="786.88" font-size="6.1" text-anchor="middle" fill="#222" textLength="16.8" lengthAdjust="spacingAndGlyphs">1314.5</text><text x="520.15" y="786.88" font-size="6.1" text-anchor="middle" fill="#222" textLength="16.8" lengthAdjust="spacingAndGlyphs">1364.5</text><text x="163.15" y="795.07" font-size="5.6" text-anchor="middle" fill="#222" font-weight="700">A</text><text x="192.05" y="795.23" font-size="6.1" text-anchor="middle" fill="#222">50</text><text x="211.35" y="795.23" font-size="6.1" text-anchor="middle" fill="#222">100</text><text x="230.65" y="795.23" font-size="6.1" text-anchor="middle" fill="#222">50</text><text x="249.95" y="795.23" font-size="6.1" text-anchor="middle" fill="#222">100</text><text x="269.25" y="795.23" font-size="6.1" text-anchor="middle" fill="#222">50</text><text x="288.55" y="795.23" font-size="6.1" text-anchor="middle" fill="#222">100</text><text x="307.85" y="795.23" font-size="6.1" text-anchor="middle" fill="#222">50</text><text x="327.15" y="795.23" font-size="6.1" text-anchor="middle" fill="#222">100</text><text x="346.45" y="795.23" font-size="6.1" text-anchor="middle" fill="#222">50</text><text x="365.75" y="795.23" font-size="6.1" text-anchor="middle" fill="#222">100</text><text x="385.05" y="795.23" font-size="6.1" text-anchor="middle" fill="#222">50</text><text x="404.35" y="795.23" font-size="6.1" text-anchor="middle" fill="#222">100</text><text x="423.65" y="795.23" font-size="6.1" text-anchor="middle" fill="#222">50</text><text x="442.95" y="795.23" font-size="6.1" text-anchor="middle" fill="#222">100</text><text x="462.25" y="795.23" font-size="6.1" text-anchor="middle" fill="#222">50</text><text x="481.55" y="795.23" font-size="6.1" text-anchor="middle" fill="#222">100</text><text x="500.85" y="795.23" font-size="6.1" text-anchor="middle" fill="#222">50</text><text x="520.15" y="795.23" font-size="6.1" text-anchor="middle" fill="#222">100</text><text x="163.15" y="803.42" font-size="5.6" text-anchor="middle" fill="#222" font-weight="700">M</text><text x="192.05" y="803.58" font-size="6.1" text-anchor="middle" fill="#222">3</text><text x="211.35" y="803.58" font-size="6.1" text-anchor="middle" fill="#222">3</text><text x="230.65" y="803.58" font-size="6.1" text-anchor="middle" fill="#222">4</text><text x="249.95" y="803.58" font-size="6.1" text-anchor="middle" fill="#222">4</text><text x="269.25" y="803.58" font-size="6.1" text-anchor="middle" fill="#222">5</text><text x="288.55" y="803.58" font-size="6.1" text-anchor="middle" fill="#222">5</text><text x="307.85" y="803.58" font-size="6.1" text-anchor="middle" fill="#222">6</text><text x="327.15" y="803.58" font-size="6.1" text-anchor="middle" fill="#222">6</text><text x="346.45" y="803.58" font-size="6.1" text-anchor="middle" fill="#222">7</text><text x="365.75" y="803.58" font-size="6.1" text-anchor="middle" fill="#222">7</text><text x="385.05" y="803.58" font-size="6.1" text-anchor="middle" fill="#222">8</text><text x="404.35" y="803.58" font-size="6.1" text-anchor="middle" fill="#222">8</text><text x="423.65" y="803.58" font-size="6.1" text-anchor="middle" fill="#222">9</text><text x="442.95" y="803.58" font-size="6.1" text-anchor="middle" fill="#222">9</text><text x="462.25" y="803.58" font-size="6.1" text-anchor="middle" fill="#222">10</text><text x="481.55" y="803.58" font-size="6.1" text-anchor="middle" fill="#222">10</text><text x="500.85" y="803.58" font-size="6.1" text-anchor="middle" fill="#222">11</text><text x="520.15" y="803.58" font-size="6.1" text-anchor="middle" fill="#222">11</text><text x="163.15" y="811.77" font-size="5.6" text-anchor="middle" fill="#222" font-weight="700">N</text><text x="192.05" y="811.92" font-size="6.1" text-anchor="middle" fill="#222">10</text><text x="211.35" y="811.92" font-size="6.1" text-anchor="middle" fill="#222">10</text><text x="230.65" y="811.92" font-size="6.1" text-anchor="middle" fill="#222">12</text><text x="249.95" y="811.92" font-size="6.1" text-anchor="middle" fill="#222">12</text><text x="269.25" y="811.92" font-size="6.1" text-anchor="middle" fill="#222">14</text><text x="288.55" y="811.92" font-size="6.1" text-anchor="middle" fill="#222">14</text><text x="307.85" y="811.92" font-size="6.1" text-anchor="middle" fill="#222">16</text><text x="327.15" y="811.92" font-size="6.1" text-anchor="middle" fill="#222">16</text><text x="346.45" y="811.92" font-size="6.1" text-anchor="middle" fill="#222">18</text><text x="365.75" y="811.92" font-size="6.1" text-anchor="middle" fill="#222">18</text><text x="385.05" y="811.92" font-size="6.1" text-anchor="middle" fill="#222">20</text><text x="404.35" y="811.92" font-size="6.1" text-anchor="middle" fill="#222">20</text><text x="423.65" y="811.92" font-size="6.1" text-anchor="middle" fill="#222">22</text><text x="442.95" y="811.92" font-size="6.1" text-anchor="middle" fill="#222">22</text><text x="462.25" y="811.92" font-size="6.1" text-anchor="middle" fill="#222">24</text><text x="481.55" y="811.92" font-size="6.1" text-anchor="middle" fill="#222">24</text><text x="500.85" y="811.92" font-size="6.1" text-anchor="middle" fill="#222">26</text><text x="520.15" y="811.92" font-size="6.1" text-anchor="middle" fill="#222">26</text><text x="163.15" y="820.12" font-size="5.6" text-anchor="middle" fill="#222" font-weight="700">P</text><text x="192.05" y="820.27" font-size="6.1" text-anchor="middle" fill="#222">250</text><text x="211.35" y="820.27" font-size="6.1" text-anchor="middle" fill="#222">300</text><text x="230.65" y="820.27" font-size="6.1" text-anchor="middle" fill="#222">350</text><text x="249.95" y="820.27" font-size="6.1" text-anchor="middle" fill="#222">400</text><text x="269.25" y="820.27" font-size="6.1" text-anchor="middle" fill="#222">450</text><text x="288.55" y="820.27" font-size="6.1" text-anchor="middle" fill="#222">500</text><text x="307.85" y="820.27" font-size="6.1" text-anchor="middle" fill="#222">550</text><text x="327.15" y="820.27" font-size="6.1" text-anchor="middle" fill="#222">600</text><text x="346.45" y="820.27" font-size="6.1" text-anchor="middle" fill="#222">650</text><text x="365.75" y="820.27" font-size="6.1" text-anchor="middle" fill="#222">700</text><text x="385.05" y="820.27" font-size="6.1" text-anchor="middle" fill="#222">750</text><text x="404.35" y="820.27" font-size="6.1" text-anchor="middle" fill="#222">800</text><text x="423.65" y="820.27" font-size="6.1" text-anchor="middle" fill="#222">850</text><text x="442.95" y="820.27" font-size="6.1" text-anchor="middle" fill="#222">900</text><text x="462.25" y="820.27" font-size="6.1" text-anchor="middle" fill="#222">950</text><text x="481.55" y="820.27" font-size="6.1" text-anchor="middle" fill="#222">1000</text><text x="500.85" y="820.27" font-size="6.1" text-anchor="middle" fill="#222">1050</text><text x="520.15" y="820.27" font-size="6.1" text-anchor="middle" fill="#222">1100</text><text x="163.15" y="828.47" font-size="5.6" text-anchor="middle" fill="#222" font-weight="700">KG</text><text x="192.05" y="828.62" font-size="6.1" text-anchor="middle" fill="#222">7.16</text><text x="211.35" y="828.62" font-size="6.1" text-anchor="middle" fill="#222">7.68</text><text x="230.65" y="828.62" font-size="6.1" text-anchor="middle" fill="#222">8.2</text><text x="249.95" y="828.62" font-size="6.1" text-anchor="middle" fill="#222">8.72</text><text x="269.25" y="828.62" font-size="6.1" text-anchor="middle" fill="#222">9.24</text><text x="288.55" y="828.62" font-size="6.1" text-anchor="middle" fill="#222">9.76</text><text x="307.85" y="828.62" font-size="6.1" text-anchor="middle" fill="#222">10.28</text><text x="327.15" y="828.62" font-size="6.1" text-anchor="middle" fill="#222">10.8</text><text x="346.45" y="828.62" font-size="6.1" text-anchor="middle" fill="#222">11.32</text><text x="365.75" y="828.62" font-size="6.1" text-anchor="middle" fill="#222">11.84</text><text x="385.05" y="828.62" font-size="6.1" text-anchor="middle" fill="#222">12.36</text><text x="404.35" y="828.62" font-size="6.1" text-anchor="middle" fill="#222">12.88</text><text x="423.65" y="828.62" font-size="6.1" text-anchor="middle" fill="#222">13.4</text><text x="442.95" y="828.62" font-size="6.1" text-anchor="middle" fill="#222">13.92</text><text x="462.25" y="828.62" font-size="6.1" text-anchor="middle" fill="#222">14.44</text><text x="481.55" y="828.62" font-size="6.1" text-anchor="middle" fill="#222">14.96</text><text x="500.85" y="828.62" font-size="6.1" text-anchor="middle" fill="#222">15.48</text><text x="520.15" y="828.62" font-size="6.1" text-anchor="middle" fill="#222">12.85</text><line x1="143.9" y1="780.5" x2="529.8" y2="780.5" stroke="#444" stroke-width="0.5"/><line x1="143.9" y1="788.85" x2="529.8" y2="788.85" stroke="#444" stroke-width="0.5"/><line x1="143.9" y1="797.2" x2="529.8" y2="797.2" stroke="#444" stroke-width="0.5"/><line x1="143.9" y1="805.55" x2="529.8" y2="805.55" stroke="#444" stroke-width="0.5"/><line x1="143.9" y1="813.9" x2="529.8" y2="813.9" stroke="#444" stroke-width="0.5"/><line x1="143.9" y1="822.25" x2="529.8" y2="822.25" stroke="#444" stroke-width="0.5"/><line x1="143.9" y1="830.6" x2="529.8" y2="830.6" stroke="#444" stroke-width="0.5"/><line x1="182.4" y1="780.5" x2="182.4" y2="830.6" stroke="#777" stroke-width="0.45"/><line x1="201.7" y1="780.5" x2="201.7" y2="830.6" stroke="#777" stroke-width="0.45"/><line x1="221" y1="780.5" x2="221" y2="830.6" stroke="#777" stroke-width="0.45"/><line x1="240.3" y1="780.5" x2="240.3" y2="830.6" stroke="#777" stroke-width="0.45"/><line x1="259.6" y1="780.5" x2="259.6" y2="830.6" stroke="#777" stroke-width="0.45"/><line x1="278.9" y1="780.5" x2="278.9" y2="830.6" stroke="#777" stroke-width="0.45"/><line x1="298.2" y1="780.5" x2="298.2" y2="830.6" stroke="#777" stroke-width="0.45"/><line x1="317.5" y1="780.5" x2="317.5" y2="830.6" stroke="#777" stroke-width="0.45"/><line x1="336.8" y1="780.5" x2="336.8" y2="830.6" stroke="#777" stroke-width="0.45"/><line x1="356.1" y1="780.5" x2="356.1" y2="830.6" stroke="#777" stroke-width="0.45"/><line x1="375.4" y1="780.5" x2="375.4" y2="830.6" stroke="#777" stroke-width="0.45"/><line x1="394.7" y1="780.5" x2="394.7" y2="830.6" stroke="#777" stroke-width="0.45"/><line x1="414" y1="780.5" x2="414" y2="830.6" stroke="#777" stroke-width="0.45"/><line x1="433.3" y1="780.5" x2="433.3" y2="830.6" stroke="#777" stroke-width="0.45"/><line x1="452.6" y1="780.5" x2="452.6" y2="830.6" stroke="#777" stroke-width="0.45"/><line x1="471.9" y1="780.5" x2="471.9" y2="830.6" stroke="#777" stroke-width="0.45"/><line x1="491.2" y1="780.5" x2="491.2" y2="830.6" stroke="#777" stroke-width="0.45"/><line x1="510.5" y1="780.5" x2="510.5" y2="830.6" stroke="#777" stroke-width="0.45"/><line x1="529.8" y1="780.5" x2="529.8" y2="830.6" stroke="#777" stroke-width="0.45"/>
<line x1="192.3" y1="170.5" x2="192.3" y2="221" stroke="#666" stroke-width="0.4"/><line x1="419.6" y1="170.5" x2="419.6" y2="219.8" stroke="#666" stroke-width="0.4"/><line x1="192.3" y1="174.3" x2="419.6" y2="174.3" stroke="#666" stroke-width="0.4"/><polygon points="192.3,174.3 194.5,173.68 194.5,174.92" fill="#666"/><polygon points="419.6,174.3 417.4,173.68 417.4,174.92" fill="#666"/><text x="306" y="172.4" font-size="6.4" text-anchor="middle" fill="#2d2d2d">L</text><line x1="141" y1="190.6" x2="419.6" y2="190.6" stroke="#666" stroke-width="0.4"/><line x1="236" y1="187.1" x2="236" y2="218.2" stroke="#666" stroke-width="0.4"/><line x1="236" y1="219.7" x2="236" y2="244.4" stroke="#8a8a8a" stroke-width="0.3"/><line x1="281.4" y1="187.1" x2="281.4" y2="218.2" stroke="#666" stroke-width="0.4"/><line x1="281.4" y1="219.7" x2="281.4" y2="244.4" stroke="#8a8a8a" stroke-width="0.3"/><line x1="343.8" y1="187.1" x2="343.8" y2="218.2" stroke="#666" stroke-width="0.4"/><line x1="343.8" y1="219.7" x2="343.8" y2="244.4" stroke="#8a8a8a" stroke-width="0.3"/><line x1="387.8" y1="187.1" x2="387.8" y2="218.2" stroke="#666" stroke-width="0.4"/><line x1="387.8" y1="219.7" x2="387.8" y2="244.4" stroke="#8a8a8a" stroke-width="0.3"/><polygon points="192.3,190.6 190.1,189.98 190.1,191.22" fill="#666"/><polygon points="236,190.6 238.2,189.98 238.2,191.22" fill="#666"/><polygon points="281.4,190.6 279.2,189.98 279.2,191.22" fill="#666"/><polygon points="281.4,190.6 283.6,189.98 283.6,191.22" fill="#666"/><polygon points="343.8,190.6 341.6,189.98 341.6,191.22" fill="#666"/><polygon points="343.8,190.6 346,189.98 346,191.22" fill="#666"/><polygon points="387.8,190.6 385.6,189.98 385.6,191.22" fill="#666"/><polygon points="387.8,190.6 390,189.98 390,191.22" fill="#666"/><polygon points="419.6,190.6 417.4,189.98 417.4,191.22" fill="#666"/><text x="141.6" y="184.3" font-size="5.6" text-anchor="start" fill="#222" font-weight="500" textLength="37" lengthAdjust="spacingAndGlyphs">滑台原點<tspan font-size='6.3' font-weight='400'>148.5</tspan></text><text x="141.6" y="189.4" font-size="4.9" text-anchor="start" fill="#8a8a8a" textLength="45.5" lengthAdjust="spacingAndGlyphs">Origin of actuator:148.5</text><text x="237.5" y="189" font-size="6.1" text-anchor="start" fill="#222" font-weight="500" textLength="24.5" lengthAdjust="spacingAndGlyphs">有效行程</text><text x="264.5" y="188.6" font-size="5.1" text-anchor="start" fill="#999" textLength="14" lengthAdjust="spacingAndGlyphs">Stroke</text><text x="313" y="189" font-size="6.4" text-anchor="middle" fill="#2d2d2d">210</text><text x="345.3" y="189" font-size="6.1" text-anchor="start" fill="#222" font-weight="500" textLength="24.5" lengthAdjust="spacingAndGlyphs">有效行程</text><text x="373" y="188.6" font-size="5.1" text-anchor="start" fill="#999" textLength="14" lengthAdjust="spacingAndGlyphs">Stroke</text><text x="404" y="189" font-size="6.4" text-anchor="middle" fill="#2d2d2d">106</text><text x="134.6" y="201.2" font-size="5.6" text-anchor="start" fill="#222" font-weight="500" textLength="51" lengthAdjust="spacingAndGlyphs">滑台機械極限<tspan font-size='6.3' font-weight='400'>76±1</tspan></text><text x="134.6" y="206.5" font-size="4.9" text-anchor="start" fill="#8a8a8a" textLength="50.5" lengthAdjust="spacingAndGlyphs">Mechanical limit:76±1</text><line x1="134" y1="208" x2="216.4" y2="208" stroke="#666" stroke-width="0.4"/><polygon points="192.3,208 190.1,207.38 190.1,208.62" fill="#666"/><polygon points="216.4,208 218.6,207.38 218.6,208.62" fill="#666"/><text x="307" y="200.4" font-size="5.6" text-anchor="start" fill="#222" font-weight="500" textLength="29.5" lengthAdjust="spacingAndGlyphs">極限距離<tspan font-size='6.3' font-weight='400'>5</tspan></text><text x="307" y="206" font-size="4.9" text-anchor="start" fill="#8a8a8a" textLength="34" lengthAdjust="spacingAndGlyphs">Limit distance:5</text><line x1="292" y1="208.8" x2="341.4" y2="208.8" stroke="#666" stroke-width="0.4"/><line x1="300.2" y1="206.5" x2="300.2" y2="219.5" stroke="#666" stroke-width="0.4"/><line x1="302.7" y1="206.5" x2="302.7" y2="219.5" stroke="#666" stroke-width="0.4"/><polygon points="300.2,208.8 298,208.18 298,209.42" fill="#666"/><polygon points="302.7,208.8 304.9,208.18 304.9,209.42" fill="#666"/><line x1="216.4" y1="204.5" x2="216.4" y2="219" stroke="#666" stroke-width="0.4"/><line x1="256.8" y1="204.5" x2="256.8" y2="219" stroke="#666" stroke-width="0.4"/><line x1="216.4" y1="207.6" x2="256.8" y2="207.6" stroke="#666" stroke-width="0.4"/><polygon points="216.4,207.6 218.6,206.98 218.6,208.22" fill="#666"/><polygon points="256.8,207.6 254.6,206.98 254.6,208.22" fill="#666"/><text x="236.6" y="206.3" font-size="6.4" text-anchor="middle" fill="#2d2d2d">135</text><line x1="225" y1="210.5" x2="225" y2="219" stroke="#666" stroke-width="0.4"/><line x1="247.7" y1="210.5" x2="247.7" y2="219" stroke="#666" stroke-width="0.4"/><line x1="225" y1="213.6" x2="247.7" y2="213.6" stroke="#666" stroke-width="0.4"/><polygon points="225,213.6 227.2,212.98 227.2,214.22" fill="#666"/><polygon points="247.7,213.6 245.5,212.98 245.5,214.22" fill="#666"/><text x="236.35" y="212.6" font-size="6.4" text-anchor="middle" fill="#2d2d2d">75</text><line x1="367.4" y1="204.5" x2="367.4" y2="219" stroke="#666" stroke-width="0.4"/><line x1="408.8" y1="200.5" x2="408.8" y2="219" stroke="#666" stroke-width="0.4"/><line x1="367.4" y1="207.6" x2="408.8" y2="207.6" stroke="#666" stroke-width="0.4"/><polygon points="367.4,207.6 369.6,206.98 369.6,208.22" fill="#666"/><polygon points="408.8,207.6 406.6,206.98 406.6,208.22" fill="#666"/><text x="388.1" y="206.3" font-size="6.4" text-anchor="middle" fill="#2d2d2d">135</text><line x1="376.8" y1="210.5" x2="376.8" y2="219" stroke="#666" stroke-width="0.4"/><line x1="399.7" y1="210.5" x2="399.7" y2="219" stroke="#666" stroke-width="0.4"/><line x1="376.8" y1="213.6" x2="399.7" y2="213.6" stroke="#666" stroke-width="0.4"/><polygon points="376.8,213.6 379,212.98 379,214.22" fill="#666"/><polygon points="399.7,213.6 397.5,212.98 397.5,214.22" fill="#666"/><text x="388.25" y="212.6" font-size="6.4" text-anchor="middle" fill="#2d2d2d">75</text><line x1="404" y1="203.6" x2="482.6" y2="203.6" stroke="#666" stroke-width="0.4"/><polygon points="408.8,203.6 406.6,202.98 406.6,204.22" fill="#666"/><polygon points="419.6,203.6 421.8,202.98 421.8,204.22" fill="#666"/><text x="424" y="194.2" font-size="5.6" text-anchor="start" fill="#222" font-weight="500" textLength="56.6" lengthAdjust="spacingAndGlyphs">滑台機械極限<tspan font-size='6.3' font-weight='400'>33.5±1</tspan></text><text x="424" y="199.6" font-size="4.9" text-anchor="start" fill="#8a8a8a" textLength="55.5" lengthAdjust="spacingAndGlyphs">Mechanical limit:33.5±1</text><line x1="175" y1="219.8" x2="206" y2="219.8" stroke="#666" stroke-width="0.4"/><line x1="175" y1="265.8" x2="194" y2="265.8" stroke="#666" stroke-width="0.4"/><line x1="184" y1="244.5" x2="193" y2="244.5" stroke="#666" stroke-width="0.4"/><line x1="176.9" y1="219.8" x2="176.9" y2="265.8" stroke="#666" stroke-width="0.4"/><polygon points="176.9,219.8 176.28,222 177.52,222" fill="#666"/><polygon points="176.9,265.8 176.28,263.6 177.52,263.6" fill="#666"/><text x="175.7" y="241.5" font-size="6.4" text-anchor="middle" fill="#2d2d2d" transform="rotate(-90 175.7 241.5)">156</text><line x1="186.2" y1="219.8" x2="186.2" y2="244.5" stroke="#666" stroke-width="0.4"/><polygon points="186.2,219.8 185.58,222 186.82,222" fill="#666"/><polygon points="186.2,244.5 185.58,242.3 186.82,242.3" fill="#666"/><text x="184.9" y="231.5" font-size="6.4" text-anchor="middle" fill="#2d2d2d" transform="rotate(-90 184.9 231.5)">82</text><path d="M195.6 222.4 H206.6 V266.6 H195.6 Q192.6 266.6 192.6 263.6 V247 L193.4 245.5 V225.4 Q193.4 222.4 195.6 222.4 Z" fill="#ededee" stroke="#404040" stroke-width="0.5"/><line x1="202.6" y1="222.6" x2="202.6" y2="266.4" stroke="#404040" stroke-width="0.35"/><rect x="206.6" y="246.6" width="30" height="19.6" fill="#ececed" stroke="#404040" stroke-width="0.5"/><rect x="206.6" y="244.4" width="30" height="2.4" fill="#dcdddf" stroke="#404040" stroke-width="0.5"/><line x1="206.8" y1="250.2" x2="236.2" y2="250.2" stroke="#9a9a9a" stroke-width="0.3"/><line x1="206.8" y1="253" x2="236.2" y2="253" stroke="#9a9a9a" stroke-width="0.3"/><line x1="206.8" y1="255.8" x2="236.2" y2="255.8" stroke="#9a9a9a" stroke-width="0.3"/><line x1="206.8" y1="258.6" x2="236.2" y2="258.6" stroke="#9a9a9a" stroke-width="0.3"/><line x1="206.8" y1="261.4" x2="236.2" y2="261.4" stroke="#9a9a9a" stroke-width="0.3"/><line x1="206.8" y1="264" x2="236.2" y2="264" stroke="#9a9a9a" stroke-width="0.3"/><rect x="221" y="247.6" width="2.8" height="18" fill="#d0d1d3" stroke="#404040" stroke-width="0.5"/><rect x="218.3" y="265.6" width="3.2" height="4.2" fill="#e4e4e4" stroke="#404040" stroke-width="0.5" rx="0.8"/><path d="M229 265.6 L230.2 269.3 Q231.8 270.6 233.4 269.3 L234.6 265.6 Z" fill="#e4e4e4" stroke="#404040" stroke-width="0.5"/><rect x="205.8" y="219.7" width="213.8" height="24.7" fill="#e7e8e9" stroke="#404040" stroke-width="0.5"/><line x1="205.8" y1="222.2" x2="419.6" y2="222.2" stroke="#8d8d8d" stroke-width="0.3"/><line x1="205.8" y1="242" x2="419.6" y2="242" stroke="#8d8d8d" stroke-width="0.3"/><rect x="258" y="223.3" width="42" height="17.6" fill="#e2e3e5" stroke="#b0b0b0" stroke-width="0.3" rx="1.6"/><rect x="304" y="223.3" width="36.5" height="17.6" fill="#e2e3e5" stroke="#b0b0b0" stroke-width="0.3" rx="1.6"/><rect x="344.5" y="223.3" width="19.5" height="17.6" fill="#e2e3e5" stroke="#b0b0b0" stroke-width="0.3" rx="1.6"/><rect x="206.6" y="222.2" width="13.8" height="19.8" fill="#dcdde0" stroke="#777" stroke-width="0.3"/><rect x="211.5" y="224.5" width="4" height="2" fill="#f2f2f2" stroke="#666" stroke-width="0.25"/><rect x="211.5" y="228" width="4" height="2" fill="#f2f2f2" stroke="#666" stroke-width="0.25"/><rect x="211.5" y="235" width="4" height="2" fill="#f2f2f2" stroke="#666" stroke-width="0.25"/><rect x="211.5" y="238.5" width="4" height="2" fill="#f2f2f2" stroke="#666" stroke-width="0.25"/><rect x="271" y="218" width="17" height="5.4" fill="#f4f4f4" stroke="#444" stroke-width="0.4"/><rect x="283.6" y="219.4" width="4.4" height="4" fill="#8a8b8e" stroke="#444" stroke-width="0.3"/><rect x="220.4" y="218.6" width="33" height="26.2" fill="#ececed" stroke="#404040" stroke-width="0.4"/><rect x="223" y="219.8" width="26.7" height="23.8" fill="#e1e2e4" stroke="#777" stroke-width="0.3"/><line x1="236.35" y1="217.6" x2="236.35" y2="246.3" stroke="#444" stroke-width="0.4"/><rect x="224.35" y="220.95" width="1.7" height="1.7" fill="#fff" stroke="#444" stroke-width="0.3"/><rect x="229.75" y="220.95" width="1.7" height="1.7" fill="#fff" stroke="#444" stroke-width="0.3"/><rect x="235.5" y="220.95" width="1.7" height="1.7" fill="#fff" stroke="#444" stroke-width="0.3"/><rect x="241.25" y="220.95" width="1.7" height="1.7" fill="#fff" stroke="#444" stroke-width="0.3"/><rect x="246.65" y="220.95" width="1.7" height="1.7" fill="#fff" stroke="#444" stroke-width="0.3"/><rect x="224.35" y="240.75" width="1.7" height="1.7" fill="#fff" stroke="#444" stroke-width="0.3"/><rect x="229.75" y="240.75" width="1.7" height="1.7" fill="#fff" stroke="#444" stroke-width="0.3"/><rect x="235.5" y="240.75" width="1.7" height="1.7" fill="#fff" stroke="#444" stroke-width="0.3"/><rect x="241.25" y="240.75" width="1.7" height="1.7" fill="#fff" stroke="#444" stroke-width="0.3"/><rect x="246.65" y="240.75" width="1.7" height="1.7" fill="#fff" stroke="#444" stroke-width="0.3"/><rect x="367.6" y="218.8" width="40.4" height="26" fill="#ececed" stroke="#404040" stroke-width="0.4"/><rect x="374.8" y="220" width="26.9" height="23.6" fill="#e1e2e4" stroke="#777" stroke-width="0.3"/><line x1="388.25" y1="217.8" x2="388.25" y2="246.3" stroke="#444" stroke-width="0.4"/><rect x="376.15" y="221.15" width="1.7" height="1.7" fill="#fff" stroke="#444" stroke-width="0.3"/><rect x="381.55" y="221.15" width="1.7" height="1.7" fill="#fff" stroke="#444" stroke-width="0.3"/><rect x="387.4" y="221.15" width="1.7" height="1.7" fill="#fff" stroke="#444" stroke-width="0.3"/><rect x="393.25" y="221.15" width="1.7" height="1.7" fill="#fff" stroke="#444" stroke-width="0.3"/><rect x="398.65" y="221.15" width="1.7" height="1.7" fill="#fff" stroke="#444" stroke-width="0.3"/><rect x="376.15" y="240.75" width="1.7" height="1.7" fill="#fff" stroke="#444" stroke-width="0.3"/><rect x="381.55" y="240.75" width="1.7" height="1.7" fill="#fff" stroke="#444" stroke-width="0.3"/><rect x="387.4" y="240.75" width="1.7" height="1.7" fill="#fff" stroke="#444" stroke-width="0.3"/><rect x="393.25" y="240.75" width="1.7" height="1.7" fill="#fff" stroke="#444" stroke-width="0.3"/><rect x="398.65" y="240.75" width="1.7" height="1.7" fill="#fff" stroke="#444" stroke-width="0.3"/><rect x="408.8" y="219.7" width="10.8" height="24.7" fill="#e3e4e6" stroke="#404040" stroke-width="0.5"/><rect x="411" y="223.5" width="5.5" height="18" fill="#efeff0" stroke="#777" stroke-width="0.3"/><rect x="412.3" y="225.3" width="2.9" height="2.4" fill="#fff" stroke="#666" stroke-width="0.25"/><rect x="412.3" y="231.3" width="2.9" height="2.4" fill="#fff" stroke="#666" stroke-width="0.25"/><rect x="412.3" y="237.3" width="2.9" height="2.4" fill="#fff" stroke="#666" stroke-width="0.25"/><line x1="186" y1="232.2" x2="424" y2="232.2" stroke="#8a8a8a" stroke-width="0.32" stroke-dasharray="7 1.3 1.3 1.3"/><line x1="300.2" y1="219.7" x2="300.2" y2="244.4" stroke="#666" stroke-width="0.3"/><line x1="302.7" y1="219.7" x2="302.7" y2="244.4" stroke="#666" stroke-width="0.3"/><line x1="281.4" y1="219.7" x2="281.4" y2="244.4" stroke="#8a8a8a" stroke-width="0.3"/><line x1="343.8" y1="219.7" x2="343.8" y2="244.4" stroke="#8a8a8a" stroke-width="0.3"/><line x1="236" y1="219.7" x2="236" y2="245.9" stroke="#666" stroke-width="0.35"/><line x1="387.8" y1="219.7" x2="387.8" y2="245.9" stroke="#666" stroke-width="0.35"/><text x="253.2" y="253.3" font-size="6.3" text-anchor="start" fill="#2d2d2d" textLength="27" lengthAdjust="spacingAndGlyphs">4-M6<tspan text-decoration='overline' font-size='4.7'>▼</tspan>13</text><line x1="250.4" y1="254.4" x2="280" y2="254.4" stroke="#666" stroke-width="0.4"/><line x1="250.4" y1="254.4" x2="246.6" y2="239.5" stroke="#666" stroke-width="0.4"/><text x="243.4" y="261.1" font-size="6.3" text-anchor="start" fill="#2d2d2d" textLength="29.5" lengthAdjust="spacingAndGlyphs">2-Ø5<tspan text-decoration='overline' font-size='4.7'>▼</tspan>8H7</text><line x1="242" y1="263.3" x2="273.8" y2="263.3" stroke="#666" stroke-width="0.4"/><line x1="242" y1="263.3" x2="237" y2="243.8" stroke="#666" stroke-width="0.4"/><text x="345" y="253.2" font-size="6.3" text-anchor="start" fill="#2d2d2d" textLength="27" lengthAdjust="spacingAndGlyphs">4-M6<tspan text-decoration='overline' font-size='4.7'>▼</tspan>13</text><line x1="344.5" y1="254.4" x2="373" y2="254.4" stroke="#666" stroke-width="0.4"/><line x1="373" y1="254.4" x2="377.5" y2="237.5" stroke="#666" stroke-width="0.4"/><text x="345" y="262" font-size="6.3" text-anchor="start" fill="#2d2d2d" textLength="29.5" lengthAdjust="spacingAndGlyphs">2-Ø5<tspan text-decoration='overline' font-size='4.7'>▼</tspan>8H7</text><line x1="344.5" y1="263.2" x2="378" y2="263.2" stroke="#666" stroke-width="0.4"/><line x1="378" y1="263.2" x2="388.6" y2="241" stroke="#666" stroke-width="0.4"/><line x1="120" y1="274" x2="120" y2="283" stroke="#666" stroke-width="0.4"/><line x1="163.8" y1="274" x2="163.8" y2="283" stroke="#666" stroke-width="0.4"/><line x1="120" y1="276.5" x2="163.8" y2="276.5" stroke="#666" stroke-width="0.4"/><polygon points="120,276.5 122.2,275.88 122.2,277.12" fill="#666"/><polygon points="163.8,276.5 161.6,275.88 161.6,277.12" fill="#666"/><text x="141.7" y="275.3" font-size="6.4" text-anchor="middle" fill="#2d2d2d">146</text><rect x="116.7" y="280.7" width="25.3" height="23.8" fill="#e2e3e5" stroke="#404040" stroke-width="0.5" rx="1"/><rect x="115" y="286" width="3" height="5.6" fill="#888" stroke="#333" stroke-width="0.3"/><rect x="121" y="282.3" width="42.8" height="19.3" fill="#efeff0" stroke="#404040" stroke-width="0.5" rx="2.4"/><rect x="122.8" y="284" width="39.2" height="15.9" fill="#ebebec" stroke="#8a8a8a" stroke-width="0.3" rx="1.8"/><circle cx="165.2" cy="291.6" r="1.5" fill="#ddd" stroke="#404040" stroke-width="0.4"/><circle cx="124.6" cy="285.6" r="0.45" fill="#333"/><circle cx="160.4" cy="285.6" r="0.45" fill="#333"/><circle cx="124.6" cy="298.4" r="0.45" fill="#333"/><circle cx="160.4" cy="298.4" r="0.45" fill="#333"/><rect x="134.5" y="288.8" width="16" height="6.7" fill="#fff" stroke="#555" stroke-width="0.3"/><rect x="135.2" y="289.5" width="14.6" height="3.1" fill="#555" stroke="none" stroke-width="0"/><text x="142.5" y="292.3" font-size="3.1" text-anchor="middle" fill="#fff" font-weight="700" textLength="13" lengthAdjust="spacingAndGlyphs" font-style="italic">TOYO</text><text x="142.5" y="294.8" font-size="1.6" text-anchor="middle" fill="#444" textLength="12" lengthAdjust="spacingAndGlyphs">ROBOTICS</text><line x1="208" y1="275" x2="208" y2="283" stroke="#666" stroke-width="0.4"/><line x1="222.8" y1="275" x2="222.8" y2="281" stroke="#666" stroke-width="0.4"/><line x1="208" y1="277.9" x2="222.8" y2="277.9" stroke="#666" stroke-width="0.4"/><text x="215.4" y="275.9" font-size="6.4" text-anchor="middle" fill="#2d2d2d">44</text><polygon points="208,277.9 209.8,277.4 209.8,278.4" fill="#666"/><polygon points="222.8,277.9 221,277.4 221,278.4" fill="#666"/><line x1="402" y1="271.5" x2="402" y2="281" stroke="#666" stroke-width="0.4"/><line x1="415.8" y1="271.5" x2="415.8" y2="286" stroke="#666" stroke-width="0.4"/><line x1="402" y1="274.5" x2="415.8" y2="274.5" stroke="#666" stroke-width="0.4"/><polygon points="402,274.5 404.2,273.88 404.2,275.12" fill="#666"/><polygon points="415.8,274.5 413.6,273.88 413.6,275.12" fill="#666"/><text x="409.4" y="273.2" font-size="6.4" text-anchor="middle" fill="#2d2d2d">46</text><rect x="205.3" y="301" width="214.3" height="3.3" fill="#dfe0e2" stroke="#404040" stroke-width="0.5"/><rect x="235.8" y="285.4" width="183.8" height="15.6" fill="#ececed" stroke="#404040" stroke-width="0.5"/><rect x="235.8" y="285.4" width="183.8" height="2.4" fill="#f6f6f6" stroke="#555" stroke-width="0.35"/><line x1="235.8" y1="293.4" x2="415.6" y2="293.4" stroke="#555" stroke-width="0.4"/><line x1="235.8" y1="297" x2="415.6" y2="297" stroke="#555" stroke-width="0.4"/><line x1="235.8" y1="301.2" x2="415.6" y2="301.2" stroke="#555" stroke-width="0.4"/><rect x="415.8" y="285.2" width="4.2" height="19.4" fill="#e6e7e8" stroke="#404040" stroke-width="0.5" rx="1.2"/><rect x="192" y="282.5" width="11" height="19.4" fill="#ededee" stroke="#404040" stroke-width="0.5" rx="2.2"/><rect x="194" y="284.5" width="2" height="1.8" fill="#fff" stroke="#666" stroke-width="0.25"/><rect x="194" y="298" width="2" height="1.8" fill="#fff" stroke="#666" stroke-width="0.25"/><rect x="202.6" y="282.6" width="5.6" height="19" fill="#e1e2e4" stroke="#404040" stroke-width="0.5"/><rect x="208" y="283.4" width="27.8" height="17.6" fill="#e9e9ea" stroke="#404040" stroke-width="0.5"/><line x1="223.8" y1="283.4" x2="223.8" y2="301" stroke="#333" stroke-width="0.7"/><circle cx="220" cy="292" r="1.3" fill="#ccc" stroke="#444" stroke-width="0.35"/><rect x="229" y="288.2" width="5" height="7.6" fill="#d8d9db" stroke="#555" stroke-width="0.3"/><rect x="230.2" y="290.4" width="2.6" height="3.2" fill="#fff" stroke="#555" stroke-width="0.25"/><path d="M218 283.4 L222 281.2 H255.5 Q257.4 281.4 257.4 283.6 V285.4 H235.8 V283.4 Z" fill="#e4e5e7" stroke="#404040" stroke-width="0.5"/><path d="M367.8 285.2 V284 L371 282.2 H374.3 L376.3 280.5 H401 L403 282.2 H406.4 L409.4 284 V285.2 Z" fill="#e4e5e7" stroke="#404040" stroke-width="0.5"/><rect x="383" y="281.6" width="8" height="3.6" fill="#c9cacc" stroke="#444" stroke-width="0.3"/><line x1="188" y1="292.1" x2="226" y2="292.1" stroke="#8a8a8a" stroke-width="0.32" stroke-dasharray="7 1.3 1.3 1.3"/><text x="436" y="303.2" font-size="6.1" text-anchor="start" fill="#222" font-weight="500" textLength="19.5" lengthAdjust="spacingAndGlyphs">基準面</text><text x="436" y="309" font-size="5.1" text-anchor="start" fill="#8a8a8a" textLength="40" lengthAdjust="spacingAndGlyphs">The datum plane</text><line x1="435.5" y1="312.4" x2="482.4" y2="312.4" stroke="#777" stroke-width="0.4"/><line x1="482.4" y1="312.4" x2="482.4" y2="304.6" stroke="#777" stroke-width="0.4"/><line x1="482.4" y1="304.3" x2="486.6" y2="304.3" stroke="#777" stroke-width="0.4"/><line x1="486.6" y1="262.5" x2="486.6" y2="282" stroke="#666" stroke-width="0.4"/><line x1="510.7" y1="262.5" x2="510.7" y2="282" stroke="#666" stroke-width="0.4"/><line x1="486.6" y1="265.6" x2="510.7" y2="265.6" stroke="#666" stroke-width="0.4"/><polygon points="486.6,265.6 488.8,264.98 488.8,266.22" fill="#666"/><polygon points="510.7,265.6 508.5,264.98 508.5,266.22" fill="#666"/><text x="498.5" y="264.4" font-size="6.4" text-anchor="middle" fill="#2d2d2d">81</text><line x1="489" y1="271.5" x2="489" y2="282" stroke="#666" stroke-width="0.4"/><line x1="508.3" y1="271.5" x2="508.3" y2="282" stroke="#666" stroke-width="0.4"/><line x1="489" y1="274" x2="508.3" y2="274" stroke="#666" stroke-width="0.4"/><polygon points="489,274 491.2,273.38 491.2,274.62" fill="#666"/><polygon points="508.3,274 506.1,273.38 506.1,274.62" fill="#666"/><text x="498.5" y="272.6" font-size="6.4" text-anchor="middle" fill="#2d2d2d">65</text><path d="M466.4 282.3 H482.7 L485.2 284.8 V299 L482.7 301.5 H466.4 L463.9 299 V284.8 Z" fill="#e9e9ea" stroke="#404040" stroke-width="0.5"/><rect x="466.7" y="284" width="15.6" height="16" fill="#ececed" stroke="#777" stroke-width="0.35" rx="3.2"/><circle cx="465.6" cy="283.9" r="0.4" fill="#333"/><circle cx="483.5" cy="283.9" r="0.4" fill="#333"/><circle cx="465.6" cy="299.9" r="0.4" fill="#333"/><circle cx="483.5" cy="299.9" r="0.4" fill="#333"/><path d="M463.9 290 H462.2 Q461 292 462.2 294 H463.9" fill="#ddd" stroke="#404040" stroke-width="0.5"/><rect x="486.6" y="281.6" width="24.1" height="22.6" fill="#ececed" stroke="#404040" stroke-width="0.5"/><rect x="486.6" y="281.6" width="24.1" height="2.4" fill="#d9dadc" stroke="#555" stroke-width="0.3"/><rect x="488.6" y="284" width="20" height="18.4" fill="#e9e9ea" stroke="#777" stroke-width="0.3"/><rect x="493" y="289.4" width="11.4" height="4.4" fill="#fff" stroke="#555" stroke-width="0.3"/><text x="498.7" y="292.9" font-size="2.8" text-anchor="middle" fill="#333" font-weight="700" font-style="italic">TOYO</text><rect x="508.6" y="285" width="3.8" height="6" fill="#888" stroke="#333" stroke-width="0.3"/><circle cx="490.6" cy="300.2" r="0.5" fill="#333"/><circle cx="506.6" cy="300.2" r="0.5" fill="#333"/><circle cx="490.6" cy="287" r="0.5" fill="#333"/><line x1="510.7" y1="281.6" x2="523.5" y2="281.6" stroke="#666" stroke-width="0.4"/><line x1="510.7" y1="304.2" x2="523.5" y2="304.2" stroke="#666" stroke-width="0.4"/><line x1="521.6" y1="281.6" x2="521.6" y2="304.2" stroke="#666" stroke-width="0.4"/><polygon points="521.6,281.6 520.98,283.8 522.22,283.8" fill="#666"/><polygon points="521.6,304.2 520.98,302 522.22,302" fill="#666"/><text x="520.2" y="292.8" font-size="6.4" text-anchor="middle" fill="#2d2d2d" transform="rotate(-90 520.2 292.8)">78</text><line x1="192.3" y1="312.5" x2="192.3" y2="326" stroke="#666" stroke-width="0.4"/><line x1="217.2" y1="312.5" x2="217.2" y2="346" stroke="#666" stroke-width="0.4"/><line x1="366.4" y1="312.5" x2="366.4" y2="346" stroke="#666" stroke-width="0.4"/><line x1="396" y1="312.5" x2="396" y2="390" stroke="#666" stroke-width="0.4"/><line x1="419.6" y1="312.5" x2="419.6" y2="346" stroke="#666" stroke-width="0.4"/><line x1="192.3" y1="315.3" x2="419.6" y2="315.3" stroke="#666" stroke-width="0.4"/><polygon points="192.3,315.3 194.5,314.68 194.5,315.92" fill="#666"/><polygon points="217.2,315.3 215,314.68 215,315.92" fill="#666"/><polygon points="217.2,315.3 219.4,314.68 219.4,315.92" fill="#666"/><polygon points="366.4,315.3 364.2,314.68 364.2,315.92" fill="#666"/><polygon points="366.4,315.3 368.6,314.68 368.6,315.92" fill="#666"/><polygon points="396,315.3 393.8,314.68 393.8,315.92" fill="#666"/><polygon points="396,315.3 398.2,314.68 398.2,315.92" fill="#666"/><polygon points="419.6,315.3 417.4,314.68 417.4,315.92" fill="#666"/><text x="205.8" y="313.7" font-size="6.4" text-anchor="middle" fill="#2d2d2d">84.5</text><text x="294.5" y="313.7" font-size="6.4" text-anchor="middle" fill="#2d2d2d">M*100</text><text x="381.7" y="313.7" font-size="6.4" text-anchor="middle" fill="#2d2d2d">A</text><text x="408.3" y="313.7" font-size="6.4" text-anchor="middle" fill="#2d2d2d">80</text><path d="M195.6 324.8 H207.2 V368 H195.4 Q192.6 368 192.6 365.4 V346 L193.4 344.5 V327.6 Q193.4 324.8 195.6 324.8 Z" fill="#efeff0" stroke="#404040" stroke-width="0.5"/><line x1="202.4" y1="325" x2="202.4" y2="367.8" stroke="#404040" stroke-width="0.35"/><rect x="207.2" y="326.7" width="28.6" height="17.9" fill="#ececed" stroke="#404040" stroke-width="0.5"/><line x1="207.4" y1="329.2" x2="235.6" y2="329.2" stroke="#9a9a9a" stroke-width="0.3"/><line x1="207.4" y1="332" x2="235.6" y2="332" stroke="#9a9a9a" stroke-width="0.3"/><line x1="207.4" y1="334.8" x2="235.6" y2="334.8" stroke="#9a9a9a" stroke-width="0.3"/><line x1="207.4" y1="337.6" x2="235.6" y2="337.6" stroke="#9a9a9a" stroke-width="0.3"/><line x1="207.4" y1="340.4" x2="235.6" y2="340.4" stroke="#9a9a9a" stroke-width="0.3"/><line x1="207.4" y1="342.8" x2="235.6" y2="342.8" stroke="#9a9a9a" stroke-width="0.3"/><rect x="222.6" y="326.7" width="2.6" height="17.9" fill="#d0d1d3" stroke="#404040" stroke-width="0.5"/><rect x="206" y="344.4" width="29.8" height="2.2" fill="#dcdddf" stroke="#404040" stroke-width="0.5"/><path d="M218.8 326.7 V323.6 Q220.2 322.2 221.7 323.6 V326.7 Z" fill="#e4e4e4" stroke="#404040" stroke-width="0.5"/><path d="M229.4 326.7 L230.8 322.7 Q232.2 321.2 233.6 322.7 L235 326.7 Z" fill="#e4e4e4" stroke="#404040" stroke-width="0.5"/><rect x="207" y="346.4" width="212.6" height="24.8" fill="#e7e8e9" stroke="#404040" stroke-width="0.5"/><rect x="210.2" y="347.4" width="205.5" height="22.8" fill="#e6e7e8" stroke="#888" stroke-width="0.3"/><line x1="210.2" y1="352.2" x2="415.7" y2="352.2" stroke="#777" stroke-width="0.35"/><line x1="210.2" y1="354" x2="415.7" y2="354" stroke="#aaa" stroke-width="0.3"/><line x1="210.2" y1="365.6" x2="415.7" y2="365.6" stroke="#777" stroke-width="0.35"/><rect x="415.7" y="346.4" width="3.9" height="24.8" fill="#e4e5e7" stroke="#404040" stroke-width="0.5"/><line x1="186" y1="359" x2="424" y2="359" stroke="#8a8a8a" stroke-width="0.32" stroke-dasharray="7 1.3 1.3 1.3"/><circle cx="217.5" cy="348.6" r="0.95" fill="#333"/><circle cx="217.5" cy="369" r="0.95" fill="#333"/><circle cx="247.5" cy="348.6" r="0.95" fill="#333"/><circle cx="247.5" cy="369" r="0.95" fill="#333"/><circle cx="277.2" cy="348.6" r="0.95" fill="#333"/><circle cx="277.2" cy="369" r="0.95" fill="#333"/><circle cx="306.9" cy="348.6" r="0.95" fill="#333"/><circle cx="306.9" cy="369" r="0.95" fill="#333"/><circle cx="336.6" cy="348.6" r="0.95" fill="#333"/><circle cx="336.6" cy="369" r="0.95" fill="#333"/><circle cx="366.4" cy="348.6" r="0.95" fill="#333"/><circle cx="366.4" cy="369" r="0.95" fill="#333"/><circle cx="396" cy="348.6" r="0.95" fill="#333"/><circle cx="396" cy="369" r="0.95" fill="#333"/><circle cx="217.5" cy="358.8" r="0.6" fill="#333"/><circle cx="247.5" cy="358.8" r="0.6" fill="#333"/><line x1="217.4" y1="346" x2="217.4" y2="390" stroke="#555" stroke-width="0.35" stroke-dasharray="2 1"/><line x1="247.5" y1="346" x2="247.5" y2="390" stroke="#555" stroke-width="0.35"/><line x1="396" y1="340" x2="396" y2="378" stroke="#555" stroke-width="0.35"/><text x="306" y="340.8" font-size="6.3" text-anchor="start" fill="#2d2d2d" textLength="55.5" lengthAdjust="spacingAndGlyphs">N-M6<tspan text-decoration='overline' font-size='4.7'>▼</tspan>15+Ø5.4-thr.</text><line x1="305.5" y1="342" x2="362" y2="342" stroke="#666" stroke-width="0.4"/><line x1="362" y1="342" x2="367.5" y2="352.5" stroke="#666" stroke-width="0.4"/><polygon points="368,353.5 367.44,351.5 368.56,351.5" fill="#666"/><text x="385.4" y="342.7" font-size="6.4" text-anchor="middle" fill="#29a9e0">B</text><line x1="387.5" y1="343.5" x2="394.2" y2="355.5" stroke="#29a9e0" stroke-width="0.35"/><circle cx="396" cy="359" r="3.1" fill="none" stroke="#29a9e0" stroke-width="0.7"/><text x="404" y="345" font-size="6.4" text-anchor="middle" fill="#f39a1f">C</text><text x="404" y="377" font-size="6.4" text-anchor="middle" fill="#f39a1f">C</text><line x1="396" y1="343" x2="400.5" y2="343" stroke="#555" stroke-width="0.4"/><line x1="396" y1="375" x2="400.5" y2="375" stroke="#555" stroke-width="0.4"/><line x1="419.6" y1="346" x2="439.5" y2="346" stroke="#666" stroke-width="0.4"/><line x1="419.6" y1="371.5" x2="439.5" y2="371.5" stroke="#666" stroke-width="0.4"/><line x1="419.6" y1="349.2" x2="431.5" y2="349.2" stroke="#666" stroke-width="0.4"/><line x1="419.6" y1="368.4" x2="431.5" y2="368.4" stroke="#666" stroke-width="0.4"/><line x1="429.7" y1="349.2" x2="429.7" y2="368.4" stroke="#666" stroke-width="0.4"/><polygon points="429.7,349.2 429.08,351.4 430.32,351.4" fill="#666"/><polygon points="429.7,368.4 429.08,366.2 430.32,366.2" fill="#666"/><text x="428.4" y="358.8" font-size="6.2" text-anchor="middle" fill="#2d2d2d" transform="rotate(-90 428.4 358.8)">68</text><line x1="437.6" y1="346" x2="437.6" y2="371.5" stroke="#666" stroke-width="0.4"/><polygon points="437.6,346 436.98,348.2 438.22,348.2" fill="#666"/><polygon points="437.6,371.5 436.98,369.3 438.22,369.3" fill="#666"/><text x="436.4" y="358.8" font-size="6.2" text-anchor="middle" fill="#2d2d2d" transform="rotate(-90 436.4 358.8)">82</text><text x="442.5" y="363" font-size="6.1" text-anchor="start" fill="#222" font-weight="500" textLength="19.5" lengthAdjust="spacingAndGlyphs">基準面</text><text x="442.5" y="369.3" font-size="5.1" text-anchor="start" fill="#8a8a8a" textLength="40" lengthAdjust="spacingAndGlyphs">The datum plane</text><line x1="442" y1="372.6" x2="485.6" y2="372.6" stroke="#777" stroke-width="0.4"/><polygon points="486,372.6 483.8,371.98 483.8,373.22" fill="#555"/><line x1="192.3" y1="372" x2="192.3" y2="390" stroke="#666" stroke-width="0.4"/><line x1="192.3" y1="386.7" x2="396" y2="386.7" stroke="#666" stroke-width="0.4"/><polygon points="192.3,386.7 194.5,386.08 194.5,387.32" fill="#666"/><polygon points="217.4,386.7 215.2,386.08 215.2,387.32" fill="#666"/><polygon points="217.4,386.7 219.6,386.08 219.6,387.32" fill="#666"/><polygon points="247.5,386.7 245.3,386.08 245.3,387.32" fill="#666"/><polygon points="247.5,386.7 249.7,386.08 249.7,387.32" fill="#666"/><polygon points="396,386.7 393.8,386.08 393.8,387.32" fill="#666"/><text x="205.8" y="385.4" font-size="6.4" text-anchor="middle" fill="#2d2d2d">84.5</text><text x="232.4" y="385.4" font-size="5.6" text-anchor="middle" fill="#2d2d2d" textLength="26.5" lengthAdjust="spacingAndGlyphs">100±0.02</text><text x="321.5" y="385.4" font-size="6.4" text-anchor="middle" fill="#2d2d2d">P</text><text x="260" y="377.8" font-size="6.3" text-anchor="start" fill="#2d2d2d" textLength="28.5" lengthAdjust="spacingAndGlyphs">2-Ø5<tspan text-decoration='overline' font-size='4.7'>▼</tspan>9H7</text><line x1="255" y1="379" x2="289" y2="379" stroke="#666" stroke-width="0.4"/><line x1="255" y1="379" x2="247.8" y2="352" stroke="#666" stroke-width="0.4"/><polygon points="247.7,350.5 247.14,352.5 248.26,352.5" fill="#666"/><text x="146" y="328.3" font-size="6.4" text-anchor="middle" fill="#29a9e0" textLength="19.9" lengthAdjust="spacingAndGlyphs">B View</text><text x="146.4" y="336.2" font-size="6.2" text-anchor="middle" fill="#2d2d2d">7</text><line x1="138.8" y1="337.2" x2="153.3" y2="337.2" stroke="#666" stroke-width="0.4"/><line x1="143.2" y1="335.6" x2="143.2" y2="347" stroke="#666" stroke-width="0.4"/><line x1="150" y1="335.6" x2="150" y2="347" stroke="#666" stroke-width="0.4"/><polygon points="143.2,337.2 144.8,336.75 144.8,337.65" fill="#666"/><polygon points="150,337.2 148.4,336.75 148.4,337.65" fill="#666"/><rect x="143.2" y="344.7" width="6.8" height="4.9" rx="2.45" fill="#fff" stroke="#333" stroke-width="0.5"/><line x1="134" y1="345.3" x2="144" y2="345.3" stroke="#666" stroke-width="0.4"/><line x1="134" y1="348.7" x2="144" y2="348.7" stroke="#666" stroke-width="0.4"/><line x1="134.6" y1="340.4" x2="134.6" y2="353.8" stroke="#666" stroke-width="0.4"/><polygon points="134.6,345.3 134.15,343.7 135.05,343.7" fill="#666"/><polygon points="134.6,348.7 134.15,350.3 135.05,350.3" fill="#666"/><text x="129.8" y="361.3" font-size="6.2" text-anchor="start" fill="#2d2d2d" transform="rotate(-90 129.8 361.3)">5</text><text x="127.4" y="355.7" font-size="5.5" text-anchor="start" fill="#2d2d2d" transform="rotate(-90 127.4 355.7)">+0.012</text><text x="132.5" y="352.2" font-size="5.5" text-anchor="start" fill="#2d2d2d" transform="rotate(-90 132.5 352.2)">0</text><text x="515" y="333.9" font-size="6.4" text-anchor="middle" fill="#f39a2e" textLength="26" lengthAdjust="spacingAndGlyphs">C-C View</text><line x1="486.4" y1="340" x2="486.4" y2="350" stroke="#666" stroke-width="0.4"/><line x1="543.8" y1="340" x2="543.8" y2="350" stroke="#666" stroke-width="0.4"/><line x1="486.4" y1="343" x2="543.8" y2="343" stroke="#666" stroke-width="0.4"/><polygon points="486.4,343 488.6,342.38 488.6,343.62" fill="#666"/><polygon points="543.8,343 541.6,342.38 541.6,343.62" fill="#666"/><text x="515.2" y="341.8" font-size="6.4" text-anchor="middle" fill="#2d2d2d">82</text><path d="M486.4 350 H497.2 V360.6 L499.4 363.1 H530.7 L532.9 360.6 V350 H543.8 V376.5 H516.6 V370.4 H513.1 V376.5 H486.4 Z" fill="url(#hat)" stroke="#444" stroke-width="0.5"/><rect x="489.5" y="350" width="3.8" height="26.5" fill="#f4f4f4" stroke="#555" stroke-width="0.3"/><rect x="488.6" y="366" width="5.6" height="10.5" fill="#f4f4f4" stroke="#555" stroke-width="0.3"/><rect x="536.6" y="350" width="3.5" height="26.5" fill="#f4f4f4" stroke="#555" stroke-width="0.3"/><rect x="535.7" y="366" width="5.3" height="10.5" fill="#f4f4f4" stroke="#555" stroke-width="0.3"/><line x1="486.4" y1="376.5" x2="486.4" y2="390.6" stroke="#666" stroke-width="0.4"/><line x1="514.8" y1="376.5" x2="514.8" y2="390.6" stroke="#666" stroke-width="0.4"/><line x1="543.8" y1="376.5" x2="543.8" y2="390.6" stroke="#666" stroke-width="0.4"/><line x1="486.4" y1="388.4" x2="514.8" y2="388.4" stroke="#666" stroke-width="0.4"/><polygon points="486.4,388.4 488.6,387.78 488.6,389.02" fill="#666"/><polygon points="514.8,388.4 512.6,387.78 512.6,389.02" fill="#666"/><text x="500.6" y="387.2" font-size="5.8" text-anchor="middle" fill="#2d2d2d" textLength="24.5" lengthAdjust="spacingAndGlyphs">40.7±0.03</text><line x1="514.8" y1="388.4" x2="543.8" y2="388.4" stroke="#666" stroke-width="0.4"/><polygon points="514.8,388.4 517,387.78 517,389.02" fill="#666"/><polygon points="543.8,388.4 541.6,387.78 541.6,389.02" fill="#666"/><text x="530" y="387.2" font-size="6.4" text-anchor="middle" fill="#2d2d2d">41</text><line x1="516.6" y1="370.4" x2="551.4" y2="370.4" stroke="#666" stroke-width="0.4"/><line x1="543.8" y1="376.5" x2="551.4" y2="376.5" stroke="#666" stroke-width="0.4"/><line x1="549.6" y1="366.6" x2="549.6" y2="386.4" stroke="#666" stroke-width="0.4"/><polygon points="549.6,370.4 549.1,368.6 550.1,368.6" fill="#666"/><polygon points="549.6,376.5 549.1,378.3 550.1,378.3" fill="#666"/><text x="553.3" y="362.6" font-size="6" text-anchor="middle" fill="#2d2d2d" transform="rotate(-90 553.3 362.6)">9</text>
<line x1="171" y1="541" x2="203" y2="541" stroke="#666" stroke-width="0.4"/><line x1="171" y1="587" x2="190" y2="587" stroke="#666" stroke-width="0.4"/><line x1="180" y1="562.5" x2="203" y2="562.5" stroke="#666" stroke-width="0.4"/><line x1="174.7" y1="541" x2="174.7" y2="587" stroke="#666" stroke-width="0.4"/><polygon points="174.7,541 174.08,543.2 175.32,543.2" fill="#666"/><polygon points="174.7,587 174.08,584.8 175.32,584.8" fill="#666"/><text x="173.2" y="562" font-size="6.4" text-anchor="middle" fill="#2d2d2d" transform="rotate(-90 173.2 562)">156</text><line x1="183.5" y1="562.5" x2="183.5" y2="587" stroke="#666" stroke-width="0.4"/><polygon points="183.5,562.5 182.88,564.7 184.12,564.7" fill="#666"/><polygon points="183.5,587 182.88,584.8 184.12,584.8" fill="#666"/><text x="182" y="574.6" font-size="6.4" text-anchor="middle" fill="#2d2d2d" transform="rotate(-90 182 574.6)">82</text><path d="M192.4 541 H203.6 V584 H192.8 Q190.4 584 190.4 581.6 V562 L189.7 560.5 V543.8 Q189.7 541 192.4 541 Z" fill="#ededee" stroke="#404040" stroke-width="0.5"/><line x1="199.8" y1="541.2" x2="199.8" y2="583.8" stroke="#404040" stroke-width="0.35"/><rect x="203.6" y="542.4" width="28.8" height="18.2" fill="#ececed" stroke="#404040" stroke-width="0.5"/><line x1="203.8" y1="545" x2="232.2" y2="545" stroke="#9a9a9a" stroke-width="0.3"/><line x1="203.8" y1="547.8" x2="232.2" y2="547.8" stroke="#9a9a9a" stroke-width="0.3"/><line x1="203.8" y1="550.6" x2="232.2" y2="550.6" stroke="#9a9a9a" stroke-width="0.3"/><line x1="203.8" y1="553.4" x2="232.2" y2="553.4" stroke="#9a9a9a" stroke-width="0.3"/><line x1="203.8" y1="556.2" x2="232.2" y2="556.2" stroke="#9a9a9a" stroke-width="0.3"/><line x1="203.8" y1="558.6" x2="232.2" y2="558.6" stroke="#9a9a9a" stroke-width="0.3"/><rect x="217.6" y="542.4" width="2.8" height="18.2" fill="#d0d1d3" stroke="#404040" stroke-width="0.5"/><rect x="203.6" y="560.4" width="28.8" height="2.6" fill="#dcdddf" stroke="#404040" stroke-width="0.5"/><path d="M214.6 542.4 V539 Q216.4 537.6 218.2 539 V542.4 Z" fill="#e4e4e4" stroke="#404040" stroke-width="0.5"/><path d="M225.6 542.4 L227 538.4 Q228.4 537 229.8 538.4 L231.2 542.4 Z" fill="#e4e4e4" stroke="#404040" stroke-width="0.5"/><rect x="202.5" y="562.8" width="211.7" height="24.2" fill="#e7e8e9" stroke="#404040" stroke-width="0.5"/><line x1="202.5" y1="565" x2="414.2" y2="565" stroke="#8d8d8d" stroke-width="0.3"/><line x1="202.5" y1="584.6" x2="414.2" y2="584.6" stroke="#8d8d8d" stroke-width="0.3"/><rect x="252" y="566" width="44" height="17.6" fill="#e2e3e5" stroke="#b0b0b0" stroke-width="0.3" rx="1.6"/><rect x="300" y="566" width="36.5" height="17.6" fill="#e2e3e5" stroke="#b0b0b0" stroke-width="0.3" rx="1.6"/><rect x="340.5" y="566" width="19" height="17.6" fill="#e2e3e5" stroke="#b0b0b0" stroke-width="0.3" rx="1.6"/><rect x="202.8" y="565" width="15.6" height="19.6" fill="#dcdde0" stroke="#777" stroke-width="0.3"/><rect x="208" y="567" width="4" height="2" fill="#f2f2f2" stroke="#666" stroke-width="0.25"/><rect x="208" y="570.5" width="4" height="2" fill="#f2f2f2" stroke="#666" stroke-width="0.25"/><rect x="208" y="577" width="4" height="2" fill="#f2f2f2" stroke="#666" stroke-width="0.25"/><rect x="208" y="580.5" width="4" height="2" fill="#f2f2f2" stroke="#666" stroke-width="0.25"/><rect x="267.6" y="583.6" width="17.4" height="5" fill="#f4f4f4" stroke="#444" stroke-width="0.4"/><rect x="280.6" y="583.6" width="4.4" height="4" fill="#8a8b8e" stroke="#444" stroke-width="0.3"/><rect x="218.4" y="562.4" width="30" height="25.6" fill="#ececed" stroke="#404040" stroke-width="0.4"/><rect x="220" y="563.6" width="25" height="23.2" fill="#e1e2e4" stroke="#777" stroke-width="0.3"/><line x1="232.5" y1="561.4" x2="232.5" y2="589.5" stroke="#444" stroke-width="0.4"/><rect x="221.35" y="564.75" width="1.7" height="1.7" fill="#fff" stroke="#444" stroke-width="0.3"/><rect x="226.75" y="564.75" width="1.7" height="1.7" fill="#fff" stroke="#444" stroke-width="0.3"/><rect x="231.65" y="564.75" width="1.7" height="1.7" fill="#fff" stroke="#444" stroke-width="0.3"/><rect x="236.55" y="564.75" width="1.7" height="1.7" fill="#fff" stroke="#444" stroke-width="0.3"/><rect x="241.95" y="564.75" width="1.7" height="1.7" fill="#fff" stroke="#444" stroke-width="0.3"/><rect x="221.35" y="583.95" width="1.7" height="1.7" fill="#fff" stroke="#444" stroke-width="0.3"/><rect x="226.75" y="583.95" width="1.7" height="1.7" fill="#fff" stroke="#444" stroke-width="0.3"/><rect x="231.65" y="583.95" width="1.7" height="1.7" fill="#fff" stroke="#444" stroke-width="0.3"/><rect x="236.55" y="583.95" width="1.7" height="1.7" fill="#fff" stroke="#444" stroke-width="0.3"/><rect x="241.95" y="583.95" width="1.7" height="1.7" fill="#fff" stroke="#444" stroke-width="0.3"/><rect x="362.3" y="562.4" width="40.7" height="25.4" fill="#ececed" stroke="#404040" stroke-width="0.4"/><rect x="369.4" y="563.6" width="26.4" height="23" fill="#e1e2e4" stroke="#777" stroke-width="0.3"/><line x1="382.6" y1="561.4" x2="382.6" y2="589.3" stroke="#444" stroke-width="0.4"/><rect x="370.75" y="564.75" width="1.7" height="1.7" fill="#fff" stroke="#444" stroke-width="0.3"/><rect x="376.15" y="564.75" width="1.7" height="1.7" fill="#fff" stroke="#444" stroke-width="0.3"/><rect x="381.75" y="564.75" width="1.7" height="1.7" fill="#fff" stroke="#444" stroke-width="0.3"/><rect x="387.35" y="564.75" width="1.7" height="1.7" fill="#fff" stroke="#444" stroke-width="0.3"/><rect x="392.75" y="564.75" width="1.7" height="1.7" fill="#fff" stroke="#444" stroke-width="0.3"/><rect x="370.75" y="583.75" width="1.7" height="1.7" fill="#fff" stroke="#444" stroke-width="0.3"/><rect x="376.15" y="583.75" width="1.7" height="1.7" fill="#fff" stroke="#444" stroke-width="0.3"/><rect x="381.75" y="583.75" width="1.7" height="1.7" fill="#fff" stroke="#444" stroke-width="0.3"/><rect x="387.35" y="583.75" width="1.7" height="1.7" fill="#fff" stroke="#444" stroke-width="0.3"/><rect x="392.75" y="583.75" width="1.7" height="1.7" fill="#fff" stroke="#444" stroke-width="0.3"/><rect x="403.4" y="562.8" width="10.8" height="24.2" fill="#e3e4e6" stroke="#404040" stroke-width="0.5"/><rect x="405.6" y="566" width="5.4" height="17.6" fill="#efeff0" stroke="#777" stroke-width="0.3"/><rect x="406.9" y="567.8" width="2.9" height="2.4" fill="#fff" stroke="#666" stroke-width="0.25"/><rect x="406.9" y="573.6" width="2.9" height="2.4" fill="#fff" stroke="#666" stroke-width="0.25"/><rect x="406.9" y="579.4" width="2.9" height="2.4" fill="#fff" stroke="#666" stroke-width="0.25"/><line x1="184" y1="574.9" x2="419" y2="574.9" stroke="#8a8a8a" stroke-width="0.32" stroke-dasharray="7 1.3 1.3 1.3"/><text x="240" y="545.5" font-size="6.3" text-anchor="start" fill="#2d2d2d" textLength="30" lengthAdjust="spacingAndGlyphs">2-Ø5<tspan text-decoration='overline' font-size='4.7'>▼</tspan>8 H7</text><line x1="236.5" y1="546.7" x2="270.5" y2="546.7" stroke="#666" stroke-width="0.4"/><line x1="236.5" y1="546.7" x2="233" y2="566" stroke="#666" stroke-width="0.4"/><text x="249.7" y="553.6" font-size="6.3" text-anchor="start" fill="#2d2d2d" textLength="24.5" lengthAdjust="spacingAndGlyphs">4-M6<tspan text-decoration='overline' font-size='4.7'>▼</tspan>13</text><line x1="246.5" y1="554.7" x2="274.5" y2="554.7" stroke="#666" stroke-width="0.4"/><line x1="246.5" y1="554.7" x2="243.5" y2="566" stroke="#666" stroke-width="0.4"/><text x="343.4" y="545.5" font-size="6.3" text-anchor="start" fill="#2d2d2d" textLength="30" lengthAdjust="spacingAndGlyphs">2-Ø5<tspan text-decoration='overline' font-size='4.7'>▼</tspan>8 H7</text><line x1="343" y1="546.7" x2="378.3" y2="546.7" stroke="#666" stroke-width="0.4"/><line x1="378.3" y1="546.7" x2="382.7" y2="564.5" stroke="#666" stroke-width="0.4"/><text x="343.4" y="553.6" font-size="6.3" text-anchor="start" fill="#2d2d2d" textLength="25" lengthAdjust="spacingAndGlyphs">4-M6<tspan text-decoration='overline' font-size='4.7'>▼</tspan>13</text><line x1="343" y1="554.7" x2="368" y2="554.7" stroke="#666" stroke-width="0.4"/><line x1="368" y1="554.7" x2="374.6" y2="569.4" stroke="#666" stroke-width="0.4"/><text x="304" y="547.2" font-size="5.6" text-anchor="start" fill="#222" font-weight="500" textLength="27.6" lengthAdjust="spacingAndGlyphs">極限距離<tspan font-size='6.3' font-weight='400'>5</tspan></text><text x="304" y="551.8" font-size="4.9" text-anchor="start" fill="#8a8a8a" textLength="32.5" lengthAdjust="spacingAndGlyphs">Limit distance:5</text><line x1="289.7" y1="553.2" x2="336.8" y2="553.2" stroke="#666" stroke-width="0.4"/><line x1="297.1" y1="551.2" x2="297.1" y2="562.7" stroke="#666" stroke-width="0.4"/><line x1="299.8" y1="551.2" x2="299.8" y2="562.7" stroke="#666" stroke-width="0.4"/><polygon points="297.1,553.2 294.9,552.58 294.9,553.82" fill="#666"/><polygon points="299.8,553.2 302,552.58 302,553.82" fill="#666"/><line x1="221" y1="588.5" x2="221" y2="600" stroke="#666" stroke-width="0.4"/><line x1="243.8" y1="588.5" x2="243.8" y2="600" stroke="#666" stroke-width="0.4"/><line x1="221" y1="597" x2="243.8" y2="597" stroke="#666" stroke-width="0.4"/><polygon points="221,597 223.2,596.38 223.2,597.62" fill="#666"/><polygon points="243.8,597 241.6,596.38 241.6,597.62" fill="#666"/><text x="232.4" y="596" font-size="6.4" text-anchor="middle" fill="#2d2d2d">75</text><line x1="212.3" y1="587.5" x2="212.3" y2="608" stroke="#666" stroke-width="0.4"/><line x1="253" y1="588.5" x2="253" y2="608" stroke="#666" stroke-width="0.4"/><line x1="212.3" y1="604.7" x2="253" y2="604.7" stroke="#666" stroke-width="0.4"/><polygon points="212.3,604.7 214.5,604.08 214.5,605.32" fill="#666"/><polygon points="253,604.7 250.8,604.08 250.8,605.32" fill="#666"/><text x="232.65" y="603.5" font-size="6.4" text-anchor="middle" fill="#2d2d2d">135</text><line x1="371.4" y1="588.5" x2="371.4" y2="600" stroke="#666" stroke-width="0.4"/><line x1="393.8" y1="588.5" x2="393.8" y2="600" stroke="#666" stroke-width="0.4"/><line x1="371.4" y1="597" x2="393.8" y2="597" stroke="#666" stroke-width="0.4"/><polygon points="371.4,597 373.6,596.38 373.6,597.62" fill="#666"/><polygon points="393.8,597 391.6,596.38 391.6,597.62" fill="#666"/><text x="382.6" y="596" font-size="6.4" text-anchor="middle" fill="#2d2d2d">75</text><line x1="362.3" y1="588.5" x2="362.3" y2="608" stroke="#666" stroke-width="0.4"/><line x1="403" y1="588.5" x2="403" y2="608" stroke="#666" stroke-width="0.4"/><line x1="362.3" y1="604.7" x2="403" y2="604.7" stroke="#666" stroke-width="0.4"/><polygon points="362.3,604.7 364.5,604.08 364.5,605.32" fill="#666"/><polygon points="403,604.7 400.8,604.08 400.8,605.32" fill="#666"/><text x="382.65" y="603.5" font-size="6.4" text-anchor="middle" fill="#2d2d2d">135</text><text x="122.5" y="592.8" font-size="5.6" text-anchor="start" fill="#222" font-weight="500" textLength="49.5" lengthAdjust="spacingAndGlyphs">滑台機械極限<tspan font-size='6.3' font-weight='400'>76±1</tspan></text><text x="122.5" y="598" font-size="4.9" text-anchor="start" fill="#8a8a8a" textLength="49" lengthAdjust="spacingAndGlyphs">Mechanical limit:76±1</text><line x1="121.5" y1="600.7" x2="212.3" y2="600.7" stroke="#666" stroke-width="0.4"/><polygon points="189.7,600.7 187.5,600.08 187.5,601.32" fill="#666"/><polygon points="212.3,600.7 214.5,600.08 214.5,601.32" fill="#666"/><text x="420.2" y="591.2" font-size="5.6" text-anchor="start" fill="#222" font-weight="500" textLength="55.6" lengthAdjust="spacingAndGlyphs">滑台機械極限<tspan font-size='6.3' font-weight='400'>33.5±1</tspan></text><text x="420.2" y="596.4" font-size="4.9" text-anchor="start" fill="#8a8a8a" textLength="54.5" lengthAdjust="spacingAndGlyphs">Mechanical limit:33.5±1</text><line x1="398.5" y1="597.7" x2="476.5" y2="597.7" stroke="#666" stroke-width="0.4"/><polygon points="403,597.7 400.8,597.08 400.8,598.32" fill="#666"/><polygon points="414.2,597.7 416.4,597.08 416.4,598.32" fill="#666"/><text x="137.2" y="610.8" font-size="5.6" text-anchor="start" fill="#222" font-weight="500" textLength="37" lengthAdjust="spacingAndGlyphs">滑台原點<tspan font-size='6.3' font-weight='400'>148.5</tspan></text><text x="137.2" y="616" font-size="4.9" text-anchor="start" fill="#8a8a8a" textLength="45.5" lengthAdjust="spacingAndGlyphs">Origin of actuator:148.5</text><line x1="136.5" y1="618" x2="414.2" y2="618" stroke="#666" stroke-width="0.4"/><line x1="232" y1="588.5" x2="232" y2="620.5" stroke="#666" stroke-width="0.4"/><line x1="276.2" y1="588.5" x2="276.2" y2="620.5" stroke="#666" stroke-width="0.4"/><line x1="338.4" y1="588.5" x2="338.4" y2="620.5" stroke="#666" stroke-width="0.4"/><line x1="384" y1="588.5" x2="384" y2="620.5" stroke="#666" stroke-width="0.4"/><polygon points="189.7,618 187.5,617.38 187.5,618.62" fill="#666"/><polygon points="232,618 234.2,617.38 234.2,618.62" fill="#666"/><polygon points="276.2,618 274,617.38 274,618.62" fill="#666"/><polygon points="276.2,618 278.4,617.38 278.4,618.62" fill="#666"/><polygon points="338.4,618 336.2,617.38 336.2,618.62" fill="#666"/><polygon points="338.4,618 340.6,617.38 340.6,618.62" fill="#666"/><polygon points="384,618 381.8,617.38 381.8,618.62" fill="#666"/><polygon points="384,618 386.2,617.38 386.2,618.62" fill="#666"/><polygon points="414.2,618 412,617.38 412,618.62" fill="#666"/><text x="234.5" y="616.2" font-size="6.1" text-anchor="start" fill="#222" font-weight="500" textLength="24" lengthAdjust="spacingAndGlyphs">有效行程</text><text x="260.5" y="615.8" font-size="5.1" text-anchor="start" fill="#999" textLength="14.5" lengthAdjust="spacingAndGlyphs">Stroke</text><text x="309" y="616.4" font-size="6.4" text-anchor="middle" fill="#2d2d2d">210</text><text x="340" y="616.2" font-size="6.1" text-anchor="start" fill="#222" font-weight="500" textLength="24.5" lengthAdjust="spacingAndGlyphs">有效行程</text><text x="367" y="615.8" font-size="5.1" text-anchor="start" fill="#999" textLength="15.5" lengthAdjust="spacingAndGlyphs">Stroke</text><text x="399.7" y="616.4" font-size="6.4" text-anchor="middle" fill="#2d2d2d">106</text><line x1="189.7" y1="586" x2="189.7" y2="628.5" stroke="#666" stroke-width="0.4"/><line x1="414.2" y1="587" x2="414.2" y2="628.5" stroke="#666" stroke-width="0.4"/><line x1="189.7" y1="625.3" x2="414.2" y2="625.3" stroke="#666" stroke-width="0.4"/><polygon points="189.7,625.3 191.9,624.68 191.9,625.92" fill="#666"/><polygon points="414.2,625.3 412,624.68 412,625.92" fill="#666"/><text x="302" y="623.8" font-size="6.4" text-anchor="middle" fill="#2d2d2d">L</text><line x1="124.5" y1="630" x2="124.5" y2="641" stroke="#666" stroke-width="0.4"/><line x1="167.6" y1="630" x2="167.6" y2="640" stroke="#666" stroke-width="0.4"/><line x1="124.5" y1="632.3" x2="167.6" y2="632.3" stroke="#666" stroke-width="0.4"/><polygon points="124.5,632.3 126.7,631.68 126.7,632.92" fill="#666"/><polygon points="167.6,632.3 165.4,631.68 165.4,632.92" fill="#666"/><text x="144.2" y="631.1" font-size="6.4" text-anchor="middle" fill="#2d2d2d">146</text><rect x="146.3" y="638.2" width="24.7" height="23" fill="#e2e3e5" stroke="#404040" stroke-width="0.5" rx="1"/><rect x="168.8" y="642.8" width="2.8" height="5" fill="#888" stroke="#333" stroke-width="0.3"/><rect x="124.5" y="640.3" width="43.1" height="17.5" fill="#efeff0" stroke="#404040" stroke-width="0.5" rx="2.4"/><rect x="126.3" y="642" width="39.5" height="14.1" fill="#ebebec" stroke="#8a8a8a" stroke-width="0.3" rx="1.8"/><circle cx="123" cy="649.3" r="1.5" fill="#ddd" stroke="#404040" stroke-width="0.4"/><circle cx="128" cy="643.6" r="0.45" fill="#333"/><circle cx="164" cy="643.6" r="0.45" fill="#333"/><circle cx="128" cy="654.6" r="0.45" fill="#333"/><circle cx="164" cy="654.6" r="0.45" fill="#333"/><rect x="138" y="646.5" width="15.3" height="5.8" fill="#fff" stroke="#555" stroke-width="0.3"/><rect x="138.7" y="647.1" width="13.9" height="2.8" fill="#555" stroke="none" stroke-width="0"/><text x="145.7" y="649.6" font-size="2.9" text-anchor="middle" fill="#fff" font-weight="700" textLength="12.4" lengthAdjust="spacingAndGlyphs" font-style="italic">TOYO</text><text x="145.7" y="651.8" font-size="1.5" text-anchor="middle" fill="#444" textLength="11.4" lengthAdjust="spacingAndGlyphs">ROBOTICS</text><line x1="119" y1="649.3" x2="164" y2="649.3" stroke="#8a8a8a" stroke-width="0.32" stroke-dasharray="7 1.3 1.3 1.3"/><line x1="206.5" y1="631" x2="206.5" y2="641" stroke="#666" stroke-width="0.4"/><line x1="221.5" y1="631" x2="221.5" y2="638" stroke="#666" stroke-width="0.4"/><line x1="206.5" y1="633.6" x2="221.5" y2="633.6" stroke="#666" stroke-width="0.4"/><text x="214" y="632.2" font-size="6.4" text-anchor="middle" fill="#2d2d2d">44</text><polygon points="206.5,633.6 208.3,633.1 208.3,634.1" fill="#666"/><polygon points="221.5,633.6 219.7,633.1 219.7,634.1" fill="#666"/><line x1="400" y1="631" x2="400" y2="638" stroke="#666" stroke-width="0.4"/><line x1="414.2" y1="628" x2="414.2" y2="643" stroke="#666" stroke-width="0.4"/><line x1="400" y1="634" x2="414.2" y2="634" stroke="#666" stroke-width="0.4"/><polygon points="400,634 402.2,633.38 402.2,634.62" fill="#666"/><polygon points="414.2,634 412,633.38 412,634.62" fill="#666"/><text x="408.3" y="632.8" font-size="6.4" text-anchor="middle" fill="#2d2d2d">46</text><rect x="203" y="657.6" width="211.2" height="3.1" fill="#dfe0e2" stroke="#404040" stroke-width="0.5"/><rect x="203.5" y="641.7" width="210.7" height="15.9" fill="#ececed" stroke="#404040" stroke-width="0.5"/><rect x="203.5" y="642.4" width="210.7" height="2.6" fill="#f6f6f6" stroke="#555" stroke-width="0.35"/><line x1="203.5" y1="650.6" x2="410.2" y2="650.6" stroke="#555" stroke-width="0.4"/><line x1="203.5" y1="654.2" x2="410.2" y2="654.2" stroke="#555" stroke-width="0.4"/><line x1="203.5" y1="658.2" x2="410.2" y2="658.2" stroke="#555" stroke-width="0.4"/><rect x="410.2" y="642.2" width="4.4" height="19" fill="#e6e7e8" stroke="#404040" stroke-width="0.5" rx="1.2"/><rect x="188.3" y="640.4" width="15.2" height="16.8" fill="#ededee" stroke="#404040" stroke-width="0.5" rx="2.2"/><rect x="190.3" y="642.2" width="2" height="1.8" fill="#fff" stroke="#666" stroke-width="0.25"/><rect x="190.3" y="653.6" width="2" height="1.8" fill="#fff" stroke="#666" stroke-width="0.25"/><line x1="199.5" y1="640.6" x2="199.5" y2="657" stroke="#404040" stroke-width="0.35"/><path d="M213 642.6 L216.5 640.4 H219 L221 638.6 H244 L246 640.4 H249 L252 642.6 Z" fill="#e4e5e7" stroke="#404040" stroke-width="0.5"/><rect x="228.5" y="639.4" width="8.5" height="3.2" fill="#c9cacc" stroke="#444" stroke-width="0.3"/><path d="M363 641.7 L366.5 639.6 H371 L373 637.8 H392 L394 639.6 H400.5 L404 641.7 Z" fill="#e4e5e7" stroke="#404040" stroke-width="0.5"/><rect x="267" y="643" width="16" height="5" fill="#f6f6f6" stroke="#444" stroke-width="0.4"/><rect x="279" y="643" width="4" height="4" fill="#8a8b8e" stroke="#444" stroke-width="0.3"/><rect x="217" y="642.6" width="30" height="5" fill="#dcdde0" stroke="#666" stroke-width="0.3"/><rect x="229" y="642.6" width="7" height="6" fill="#9a9b9e" stroke="#444" stroke-width="0.3"/><text x="443.7" y="662.8" font-size="6.1" text-anchor="start" fill="#222" font-weight="500" textLength="18.5" lengthAdjust="spacingAndGlyphs">基準面</text><text x="443.7" y="668" font-size="5.1" text-anchor="start" fill="#8a8a8a" textLength="38.5" lengthAdjust="spacingAndGlyphs">The datum plane</text><line x1="443" y1="670" x2="486.3" y2="670" stroke="#777" stroke-width="0.4"/><line x1="486.3" y1="670" x2="486.3" y2="662" stroke="#777" stroke-width="0.4"/><line x1="486.3" y1="661.8" x2="490.8" y2="661.8" stroke="#777" stroke-width="0.4"/><line x1="490.8" y1="620" x2="490.8" y2="639" stroke="#666" stroke-width="0.4"/><line x1="515.4" y1="620" x2="515.4" y2="639" stroke="#666" stroke-width="0.4"/><line x1="490.8" y1="623" x2="515.4" y2="623" stroke="#666" stroke-width="0.4"/><polygon points="490.8,623 493,622.38 493,623.62" fill="#666"/><polygon points="515.4,623 513.2,622.38 513.2,623.62" fill="#666"/><text x="503" y="621.8" font-size="6.4" text-anchor="middle" fill="#2d2d2d">81</text><line x1="493.3" y1="629" x2="493.3" y2="639" stroke="#666" stroke-width="0.4"/><line x1="513" y1="629" x2="513" y2="639" stroke="#666" stroke-width="0.4"/><line x1="493.3" y1="631.6" x2="513" y2="631.6" stroke="#666" stroke-width="0.4"/><polygon points="493.3,631.6 495.5,630.98 495.5,632.22" fill="#666"/><polygon points="513,631.6 510.8,630.98 510.8,632.22" fill="#666"/><text x="503" y="630.2" font-size="6.4" text-anchor="middle" fill="#2d2d2d">65</text><path d="M519.3 639.7 H535.8 L538.3 642.2 V657.4 L535.8 659.9 H519.3 L516.8 657.4 V642.2 Z" fill="#e9e9ea" stroke="#404040" stroke-width="0.5"/><rect x="519.6" y="641.6" width="15.8" height="16.4" fill="#ececed" stroke="#777" stroke-width="0.35" rx="3.2"/><circle cx="518.5" cy="641.3" r="0.4" fill="#333"/><circle cx="536.6" cy="641.3" r="0.4" fill="#333"/><circle cx="518.5" cy="658.3" r="0.4" fill="#333"/><circle cx="536.6" cy="658.3" r="0.4" fill="#333"/><path d="M538.3 647.8 H540 Q541.2 649.8 540 651.8 H538.3" fill="#ddd" stroke="#404040" stroke-width="0.5"/><rect x="490.8" y="638.5" width="24.6" height="23.3" fill="#ececed" stroke="#404040" stroke-width="0.5"/><rect x="490.8" y="638.5" width="24.6" height="2.5" fill="#d9dadc" stroke="#555" stroke-width="0.3"/><rect x="492.8" y="641" width="20.6" height="19" fill="#e9e9ea" stroke="#777" stroke-width="0.3"/><rect x="497.5" y="646.4" width="11.5" height="4.4" fill="#fff" stroke="#555" stroke-width="0.3"/><text x="503.2" y="649.9" font-size="2.8" text-anchor="middle" fill="#333" font-weight="700" font-style="italic">TOYO</text><rect x="489" y="642" width="3.8" height="6" fill="#888" stroke="#333" stroke-width="0.3"/><circle cx="495" cy="657.6" r="0.5" fill="#333"/><circle cx="511" cy="657.6" r="0.5" fill="#333"/><circle cx="511" cy="644" r="0.5" fill="#333"/><line x1="481" y1="638.5" x2="490.8" y2="638.5" stroke="#666" stroke-width="0.4"/><line x1="481" y1="661.8" x2="490.8" y2="661.8" stroke="#666" stroke-width="0.4"/><line x1="483" y1="638.5" x2="483" y2="661.8" stroke="#666" stroke-width="0.4"/><polygon points="483,638.5 482.38,640.7 483.62,640.7" fill="#666"/><polygon points="483,661.8 482.38,659.6 483.62,659.6" fill="#666"/><text x="481.6" y="650" font-size="6.4" text-anchor="middle" fill="#2d2d2d" transform="rotate(-90 481.6 650)">78</text><line x1="189.7" y1="667.5" x2="189.7" y2="690" stroke="#666" stroke-width="0.4"/><line x1="213.7" y1="667.5" x2="213.7" y2="685" stroke="#666" stroke-width="0.4"/><line x1="360" y1="667.5" x2="360" y2="685" stroke="#666" stroke-width="0.4"/><line x1="390.3" y1="667.5" x2="390.3" y2="746" stroke="#666" stroke-width="0.4"/><line x1="414.2" y1="667.5" x2="414.2" y2="685" stroke="#666" stroke-width="0.4"/><line x1="189.7" y1="670.6" x2="414.2" y2="670.6" stroke="#666" stroke-width="0.4"/><polygon points="189.7,670.6 191.9,669.98 191.9,671.22" fill="#666"/><polygon points="213.7,670.6 211.5,669.98 211.5,671.22" fill="#666"/><polygon points="213.7,670.6 215.9,669.98 215.9,671.22" fill="#666"/><polygon points="360,670.6 357.8,669.98 357.8,671.22" fill="#666"/><polygon points="360,670.6 362.2,669.98 362.2,671.22" fill="#666"/><polygon points="390.3,670.6 388.1,669.98 388.1,671.22" fill="#666"/><polygon points="390.3,670.6 392.5,669.98 392.5,671.22" fill="#666"/><polygon points="414.2,670.6 412,669.98 412,671.22" fill="#666"/><text x="201" y="669" font-size="6.4" text-anchor="middle" fill="#2d2d2d">84.5</text><text x="289.5" y="669" font-size="6.4" text-anchor="middle" fill="#2d2d2d">M*100</text><text x="376" y="669" font-size="6.4" text-anchor="middle" fill="#2d2d2d">A</text><text x="402.6" y="669" font-size="6.4" text-anchor="middle" fill="#2d2d2d">80</text><path d="M191 687.8 H203 V731.4 H192.6 Q189.7 731.4 189.7 728.6 V712 L190.6 710.5 V691 Q189.8 687.8 191 687.8 Z" fill="#e7e8e9" stroke="#404040" stroke-width="0.5"/><line x1="200.4" y1="688" x2="200.4" y2="731.2" stroke="#404040" stroke-width="0.35"/><rect x="203" y="711.2" width="29.4" height="18.2" fill="#ececed" stroke="#404040" stroke-width="0.5"/><line x1="203.2" y1="713.8" x2="232.2" y2="713.8" stroke="#9a9a9a" stroke-width="0.3"/><line x1="203.2" y1="716.6" x2="232.2" y2="716.6" stroke="#9a9a9a" stroke-width="0.3"/><line x1="203.2" y1="719.4" x2="232.2" y2="719.4" stroke="#9a9a9a" stroke-width="0.3"/><line x1="203.2" y1="722.2" x2="232.2" y2="722.2" stroke="#9a9a9a" stroke-width="0.3"/><line x1="203.2" y1="725" x2="232.2" y2="725" stroke="#9a9a9a" stroke-width="0.3"/><line x1="203.2" y1="727.4" x2="232.2" y2="727.4" stroke="#9a9a9a" stroke-width="0.3"/><rect x="217" y="711.2" width="2.8" height="18.2" fill="#d0d1d3" stroke="#404040" stroke-width="0.5"/><rect x="203" y="708.7" width="29.4" height="2.7" fill="#dcdddf" stroke="#404040" stroke-width="0.5"/><path d="M214.8 729.4 V732.6 Q216.4 734 218 732.6 V729.4 Z" fill="#e4e4e4" stroke="#404040" stroke-width="0.5"/><path d="M225.2 729.4 L226.6 733 Q228.2 734.4 229.8 733 L231.2 729.4 Z" fill="#e4e4e4" stroke="#404040" stroke-width="0.5"/><rect x="203" y="684.6" width="211.2" height="24.1" fill="#e7e8e9" stroke="#404040" stroke-width="0.5"/><rect x="206.4" y="687" width="203.6" height="19.4" fill="#e3e4e6" stroke="#888" stroke-width="0.3"/><line x1="206.4" y1="690.2" x2="410" y2="690.2" stroke="#aaa" stroke-width="0.3"/><line x1="206.4" y1="703.2" x2="410" y2="703.2" stroke="#aaa" stroke-width="0.3"/><rect x="410" y="684.6" width="4.2" height="24.1" fill="#dfe0e2" stroke="#404040" stroke-width="0.5"/><line x1="184" y1="696.8" x2="419" y2="696.8" stroke="#8a8a8a" stroke-width="0.32" stroke-dasharray="7 1.3 1.3 1.3"/><circle cx="213.7" cy="686.8" r="0.95" fill="#333"/><circle cx="213.7" cy="706.6" r="0.95" fill="#333"/><circle cx="243.5" cy="686.8" r="0.95" fill="#333"/><circle cx="243.5" cy="706.6" r="0.95" fill="#333"/><circle cx="273" cy="686.8" r="0.95" fill="#333"/><circle cx="273" cy="706.6" r="0.95" fill="#333"/><circle cx="302.4" cy="686.8" r="0.95" fill="#333"/><circle cx="302.4" cy="706.6" r="0.95" fill="#333"/><circle cx="331.8" cy="686.8" r="0.95" fill="#333"/><circle cx="331.8" cy="706.6" r="0.95" fill="#333"/><circle cx="360" cy="686.8" r="0.95" fill="#333"/><circle cx="360" cy="706.6" r="0.95" fill="#333"/><circle cx="390.3" cy="686.8" r="0.95" fill="#333"/><circle cx="390.3" cy="706.6" r="0.95" fill="#333"/><line x1="213.7" y1="685" x2="213.7" y2="746" stroke="#555" stroke-width="0.35" stroke-dasharray="2 1"/><line x1="243.5" y1="685" x2="243.5" y2="746" stroke="#555" stroke-width="0.35"/><text x="303" y="678.6" font-size="6.3" text-anchor="start" fill="#2d2d2d" textLength="55.5" lengthAdjust="spacingAndGlyphs">N-M6<tspan text-decoration='overline' font-size='4.7'>▼</tspan>15+Ø5.4-thr.</text><line x1="302.5" y1="679.8" x2="357.5" y2="679.8" stroke="#666" stroke-width="0.4"/><line x1="357.5" y1="679.8" x2="362" y2="690" stroke="#666" stroke-width="0.4"/><polygon points="362.6,691.2 362.04,689.2 363.16,689.2" fill="#666"/><text x="380" y="680.6" font-size="6.4" text-anchor="middle" fill="#29a9e0">B</text><line x1="382" y1="681.5" x2="388.6" y2="693.4" stroke="#29a9e0" stroke-width="0.35"/><circle cx="390.3" cy="696.8" r="3.1" fill="none" stroke="#29a9e0" stroke-width="0.7"/><text x="398.6" y="682.3" font-size="6.4" text-anchor="middle" fill="#f39a1f">C</text><text x="398.6" y="714.3" font-size="6.4" text-anchor="middle" fill="#f39a1f">C</text><line x1="390.3" y1="680.4" x2="395" y2="680.4" stroke="#555" stroke-width="0.4"/><line x1="390.3" y1="712.4" x2="395" y2="712.4" stroke="#555" stroke-width="0.4"/><line x1="414.2" y1="684.6" x2="433.5" y2="684.6" stroke="#666" stroke-width="0.4"/><line x1="414.2" y1="708.7" x2="433.5" y2="708.7" stroke="#666" stroke-width="0.4"/><line x1="414.2" y1="687.4" x2="426" y2="687.4" stroke="#666" stroke-width="0.4"/><line x1="414.2" y1="706" x2="426" y2="706" stroke="#666" stroke-width="0.4"/><line x1="424.3" y1="687.4" x2="424.3" y2="706" stroke="#666" stroke-width="0.4"/><polygon points="424.3,687.4 423.68,689.6 424.92,689.6" fill="#666"/><polygon points="424.3,706 423.68,703.8 424.92,703.8" fill="#666"/><text x="423" y="696.8" font-size="6.2" text-anchor="middle" fill="#2d2d2d" transform="rotate(-90 423 696.8)">68</text><line x1="431.7" y1="684.6" x2="431.7" y2="708.7" stroke="#666" stroke-width="0.4"/><polygon points="431.7,684.6 431.08,686.8 432.32,686.8" fill="#666"/><polygon points="431.7,708.7 431.08,706.5 432.32,706.5" fill="#666"/><text x="430.5" y="696.8" font-size="6.2" text-anchor="middle" fill="#2d2d2d" transform="rotate(-90 430.5 696.8)">82</text><text x="440" y="714" font-size="6.1" text-anchor="start" fill="#222" font-weight="500" textLength="18.5" lengthAdjust="spacingAndGlyphs">基準面</text><text x="440" y="719.4" font-size="5.1" text-anchor="start" fill="#8a8a8a" textLength="38.5" lengthAdjust="spacingAndGlyphs">The datum plane</text><line x1="439.5" y1="721.4" x2="483" y2="721.4" stroke="#777" stroke-width="0.4"/><polygon points="483.6,721.4 481.4,720.78 481.4,722.02" fill="#555"/><line x1="189.7" y1="731.4" x2="189.7" y2="746" stroke="#666" stroke-width="0.4"/><line x1="189.7" y1="743" x2="390.3" y2="743" stroke="#666" stroke-width="0.4"/><polygon points="189.7,743 191.9,742.38 191.9,743.62" fill="#666"/><polygon points="213.7,743 211.5,742.38 211.5,743.62" fill="#666"/><polygon points="213.7,743 215.9,742.38 215.9,743.62" fill="#666"/><polygon points="243.5,743 241.3,742.38 241.3,743.62" fill="#666"/><polygon points="243.5,743 245.7,742.38 245.7,743.62" fill="#666"/><polygon points="390.3,743 388.1,742.38 388.1,743.62" fill="#666"/><text x="201.7" y="741.7" font-size="6.4" text-anchor="middle" fill="#2d2d2d">84.5</text><text x="228.5" y="741.7" font-size="5.6" text-anchor="middle" fill="#2d2d2d" textLength="26.5" lengthAdjust="spacingAndGlyphs">100±0.02</text><text x="316.7" y="741.7" font-size="6.4" text-anchor="middle" fill="#2d2d2d">P</text><text x="257" y="718.6" font-size="6.3" text-anchor="start" fill="#2d2d2d" textLength="30.5" lengthAdjust="spacingAndGlyphs">2-Ø5<tspan text-decoration='overline' font-size='4.7'>▼</tspan>9 H7</text><line x1="253.9" y1="719.8" x2="288" y2="719.8" stroke="#666" stroke-width="0.4"/><line x1="253.9" y1="719.8" x2="243.8" y2="691.5" stroke="#666" stroke-width="0.4"/><polygon points="243.5,690 242.94,692 244.06,692" fill="#666"/><text x="156.2" y="690.9" font-size="6.4" text-anchor="middle" fill="#29a9e0" textLength="18.9" lengthAdjust="spacingAndGlyphs">B View</text><text x="156.4" y="698.4" font-size="6.2" text-anchor="middle" fill="#2d2d2d">7</text><line x1="148.8" y1="699.5" x2="163.6" y2="699.5" stroke="#666" stroke-width="0.4"/><line x1="153.2" y1="698" x2="153.2" y2="709.5" stroke="#666" stroke-width="0.4"/><line x1="159.9" y1="698" x2="159.9" y2="709.5" stroke="#666" stroke-width="0.4"/><polygon points="153.2,699.5 154.8,699.05 154.8,699.95" fill="#666"/><polygon points="159.9,699.5 158.3,699.05 158.3,699.95" fill="#666"/><rect x="153.2" y="707.3" width="6.7" height="4.5" rx="2.25" fill="#fff" stroke="#333" stroke-width="0.5"/><line x1="143.9" y1="707.5" x2="154" y2="707.5" stroke="#666" stroke-width="0.4"/><line x1="143.9" y1="711.2" x2="154" y2="711.2" stroke="#666" stroke-width="0.4"/><line x1="144.6" y1="702.7" x2="144.6" y2="716" stroke="#666" stroke-width="0.4"/><polygon points="144.6,707.5 144.15,705.9 145.05,705.9" fill="#666"/><polygon points="144.6,711.2 144.15,712.8 145.05,712.8" fill="#666"/><text x="139.8" y="723.9" font-size="6.2" text-anchor="start" fill="#2d2d2d" transform="rotate(-90 139.8 723.9)">5</text><text x="137.4" y="718.4" font-size="5.5" text-anchor="start" fill="#2d2d2d" transform="rotate(-90 137.4 718.4)">+0.012</text><text x="142.5" y="714.9" font-size="5.5" text-anchor="start" fill="#2d2d2d" transform="rotate(-90 142.5 714.9)">0</text><text x="512.6" y="678.8" font-size="6.4" text-anchor="middle" fill="#f39a2e" textLength="26" lengthAdjust="spacingAndGlyphs">C-C View</text><line x1="484" y1="688.3" x2="484" y2="698.3" stroke="#666" stroke-width="0.4"/><line x1="541.4" y1="688.3" x2="541.4" y2="698.3" stroke="#666" stroke-width="0.4"/><line x1="484" y1="691.3" x2="541.4" y2="691.3" stroke="#666" stroke-width="0.4"/><polygon points="484,691.3 486.2,690.68 486.2,691.92" fill="#666"/><polygon points="541.4,691.3 539.2,690.68 539.2,691.92" fill="#666"/><text x="512.8" y="690.1" font-size="6.4" text-anchor="middle" fill="#2d2d2d">82</text><path d="M484 698.3 H494.8 V708.9 L497 711.4 H528.3 L530.5 708.9 V698.3 H541.4 V724.8 H514.2 V718.7 H510.7 V724.8 H484 Z" fill="url(#hat)" stroke="#444" stroke-width="0.5"/><rect x="487.1" y="698.3" width="3.8" height="26.5" fill="#f4f4f4" stroke="#555" stroke-width="0.3"/><rect x="486.2" y="714.3" width="5.6" height="10.5" fill="#f4f4f4" stroke="#555" stroke-width="0.3"/><rect x="534.2" y="698.3" width="3.5" height="26.5" fill="#f4f4f4" stroke="#555" stroke-width="0.3"/><rect x="533.3" y="714.3" width="5.3" height="10.5" fill="#f4f4f4" stroke="#555" stroke-width="0.3"/><line x1="484" y1="724.8" x2="484" y2="738.9" stroke="#666" stroke-width="0.4"/><line x1="512.4" y1="724.8" x2="512.4" y2="738.9" stroke="#666" stroke-width="0.4"/><line x1="541.4" y1="724.8" x2="541.4" y2="738.9" stroke="#666" stroke-width="0.4"/><line x1="484" y1="736.7" x2="512.4" y2="736.7" stroke="#666" stroke-width="0.4"/><polygon points="484,736.7 486.2,736.08 486.2,737.32" fill="#666"/><polygon points="512.4,736.7 510.2,736.08 510.2,737.32" fill="#666"/><text x="498.2" y="735.5" font-size="5.8" text-anchor="middle" fill="#2d2d2d" textLength="24.5" lengthAdjust="spacingAndGlyphs">40.7±0.03</text><line x1="512.4" y1="736.7" x2="541.4" y2="736.7" stroke="#666" stroke-width="0.4"/><polygon points="512.4,736.7 514.6,736.08 514.6,737.32" fill="#666"/><polygon points="541.4,736.7 539.2,736.08 539.2,737.32" fill="#666"/><text x="527.6" y="735.5" font-size="6.4" text-anchor="middle" fill="#2d2d2d">41</text><line x1="514.2" y1="718.7" x2="549" y2="718.7" stroke="#666" stroke-width="0.4"/><line x1="541.4" y1="724.8" x2="549" y2="724.8" stroke="#666" stroke-width="0.4"/><line x1="547.2" y1="714.9" x2="547.2" y2="734.7" stroke="#666" stroke-width="0.4"/><polygon points="547.2,718.7 546.7,716.9 547.7,716.9" fill="#666"/><polygon points="547.2,724.8 546.7,726.6 547.7,726.6" fill="#666"/><text x="550.9" y="710.9" font-size="6" text-anchor="middle" fill="#2d2d2d" transform="rotate(-90 550.9 710.9)">9</text>
</svg>
</body></html>
